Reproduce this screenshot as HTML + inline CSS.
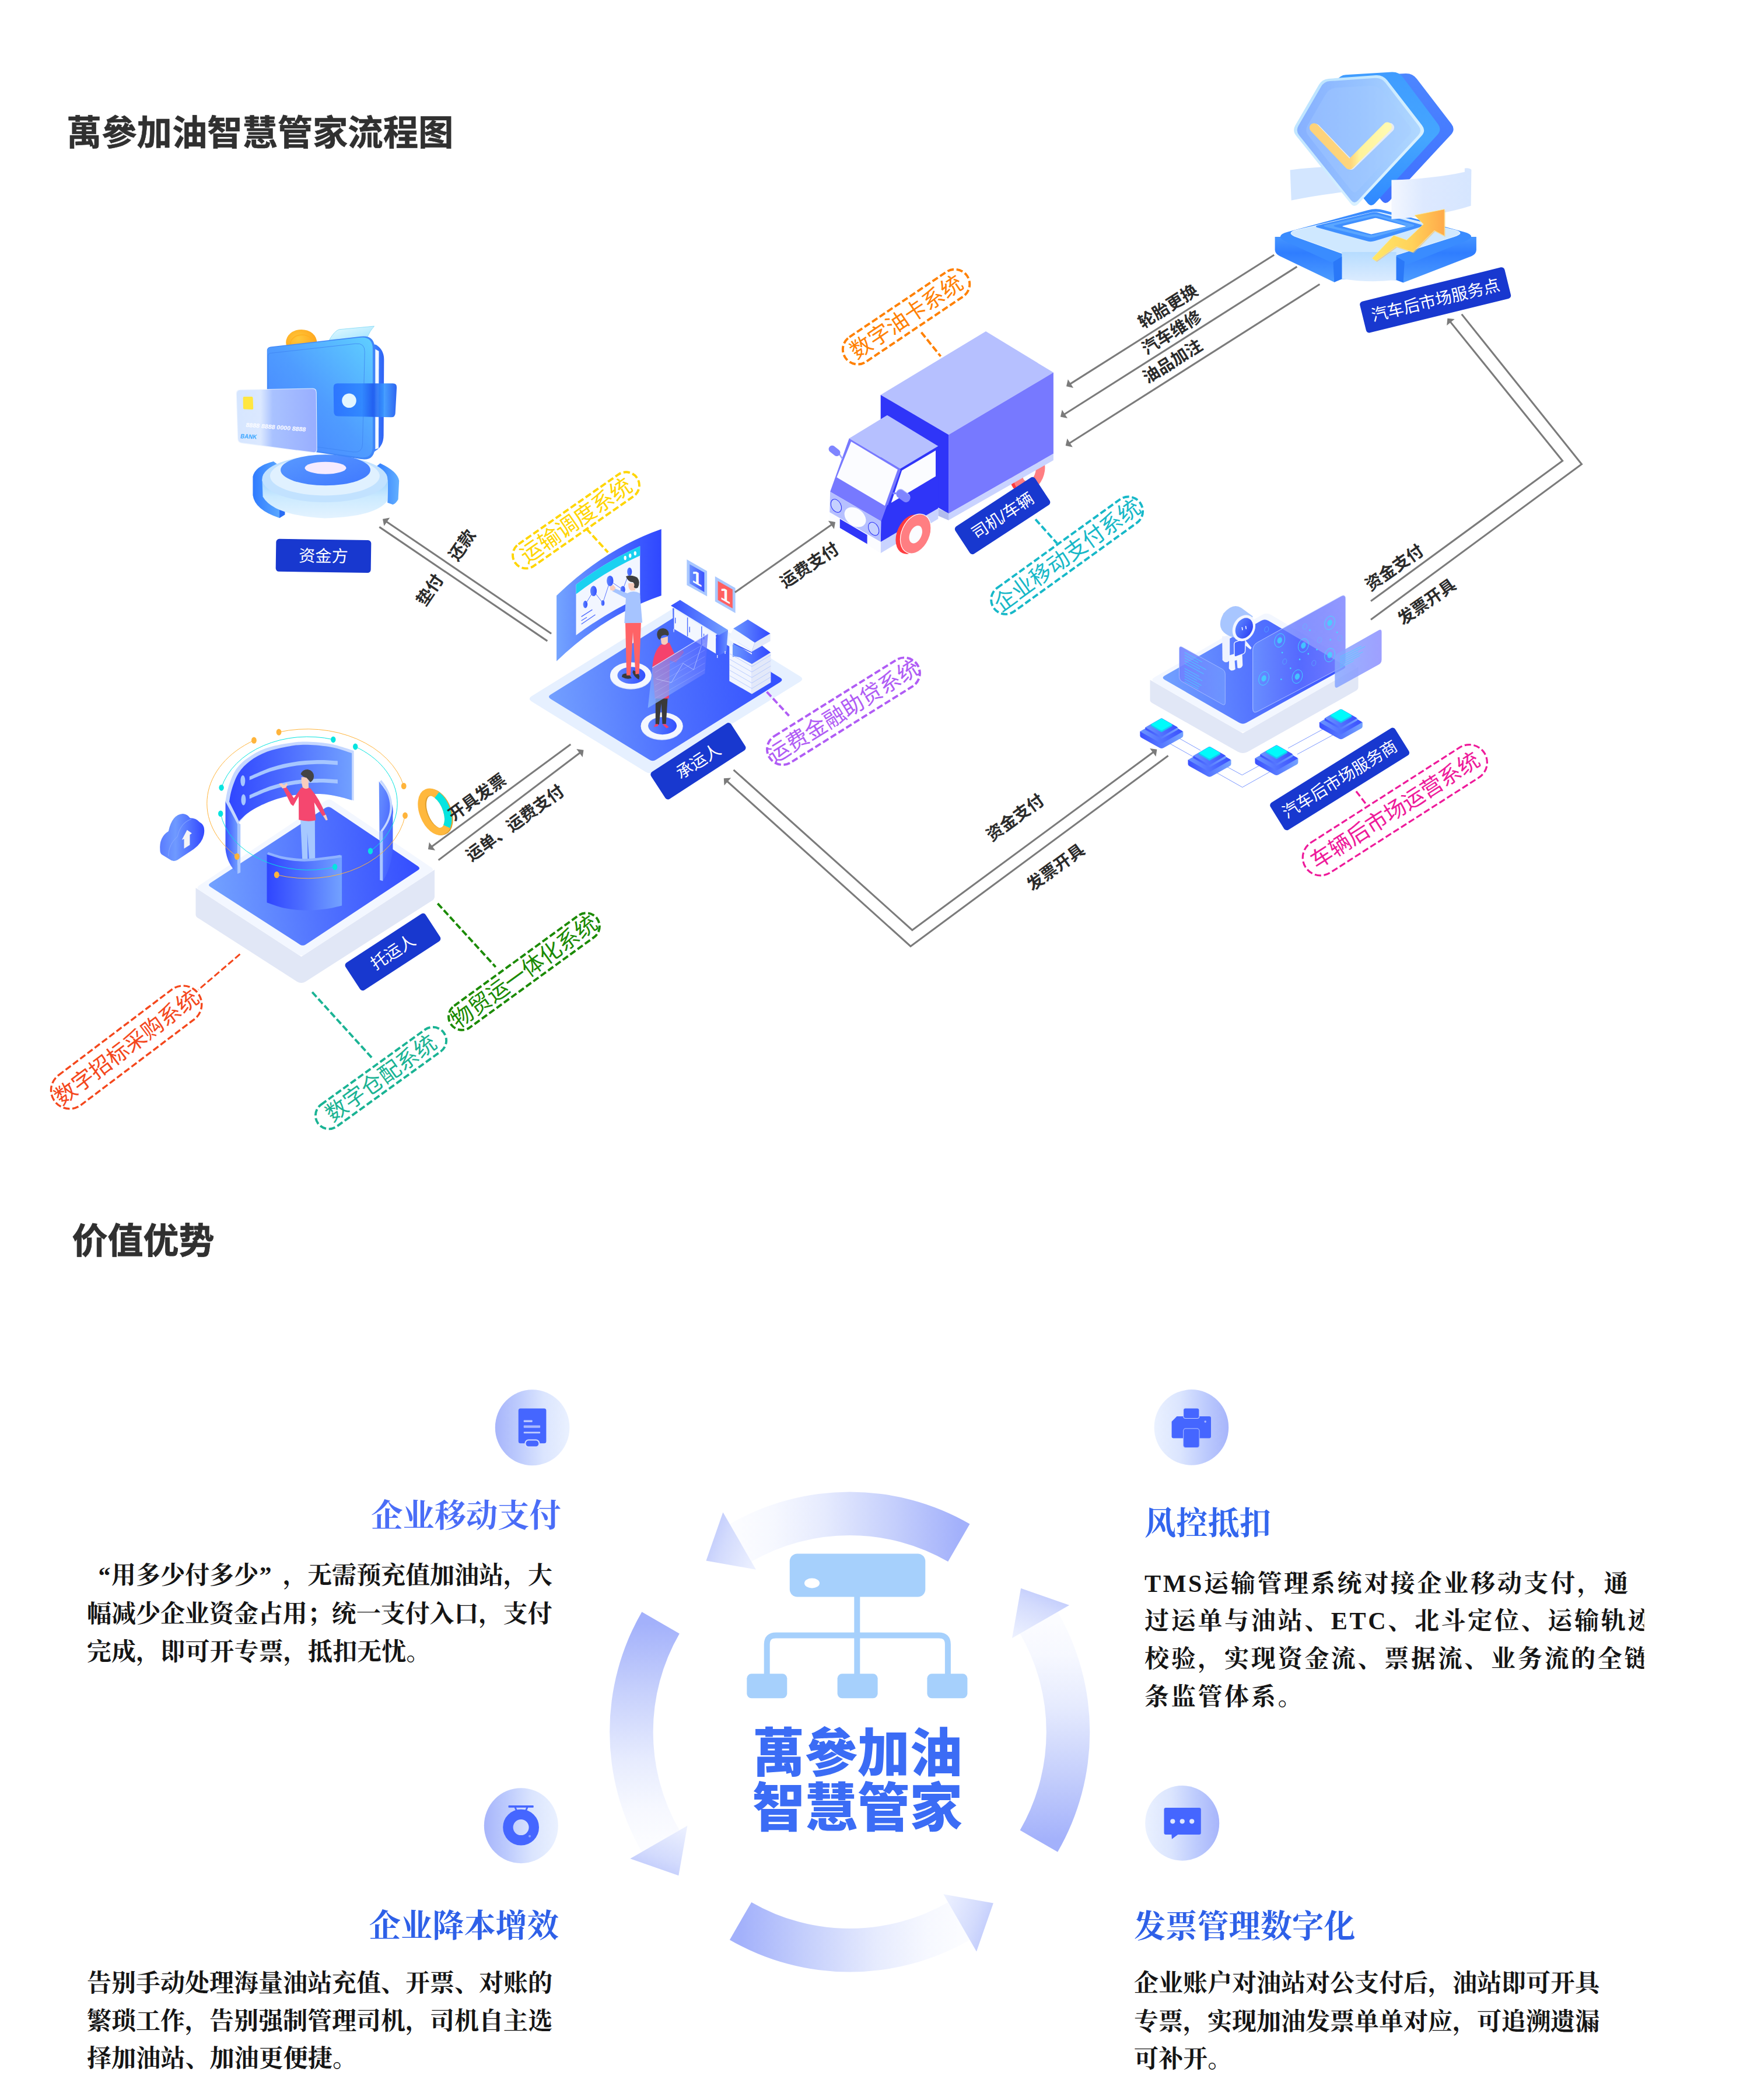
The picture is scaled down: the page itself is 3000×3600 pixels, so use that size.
<!DOCTYPE html>
<html lang="zh-CN"><head><meta charset="utf-8"><title>萬參加油智慧管家流程图</title>
<style>
html,body{margin:0;padding:0;background:#fff;}
body{width:3000px;height:3600px;overflow:hidden;position:relative;font-family:"Liberation Sans","Noto Sans CJK SC",sans-serif;}
svg{display:block;position:absolute;left:0;top:0;}
svg text{font-family:"Liberation Sans","Noto Sans CJK SC",sans-serif;}
svg text.sf{font-family:"Liberation Serif","Noto Serif CJK SC",serif;}
</style></head><body>
<svg xmlns="http://www.w3.org/2000/svg" width="3000" height="3600" viewBox="0 0 3000 3600">
<defs>
</defs>

<text x="114" y="249.3" font-size="60.3" font-weight="700" fill="#303030" stroke="#303030" stroke-width="0.6">萬參加油智慧管家流程图</text>
<text x="123.6" y="2148.8" font-size="61" font-weight="700" fill="#303030" stroke="#303030" stroke-width="0.8">价值优势</text>
<g id="wallet"><defs>
<linearGradient id="wBody" x1="0" y1="1" x2="1" y2="0"><stop offset="0" stop-color="#4580ff"/><stop offset="0.5" stop-color="#4f9cff"/><stop offset="1" stop-color="#5fcfff"/></linearGradient>
<linearGradient id="wEdge" x1="0" y1="0" x2="1" y2="0"><stop offset="0" stop-color="#3f8bff"/><stop offset="1" stop-color="#2f62f5"/></linearGradient>
<linearGradient id="wStrap" x1="0" y1="0" x2="1" y2="0"><stop offset="0" stop-color="#2a72ff"/><stop offset="0.45" stop-color="#2f86ff"/><stop offset="0.62" stop-color="#1f5cf0"/><stop offset="0.8" stop-color="#3a98ff"/><stop offset="1" stop-color="#1d5af0"/></linearGradient>
<linearGradient id="wCard" x1="0" y1="0" x2="1" y2="0"><stop offset="0" stop-color="#d6e6ff"/><stop offset="0.3" stop-color="#dbe8ff"/><stop offset="0.45" stop-color="#a9c2ff"/><stop offset="1" stop-color="#98aeff"/></linearGradient>
<radialGradient id="wCoin" cx="0.4" cy="0.35" r="0.8"><stop offset="0" stop-color="#ffc83a"/><stop offset="1" stop-color="#ff9a14"/></radialGradient>
<linearGradient id="wGlass" x1="0" y1="0" x2="0" y2="1"><stop offset="0" stop-color="#9ed3ff"/><stop offset="0.45" stop-color="#cbeaff"/><stop offset="1" stop-color="#e4f3ff"/></linearGradient>
<linearGradient id="wRing" x1="0" y1="0" x2="1" y2="0"><stop offset="0" stop-color="#2f7bff"/><stop offset="1" stop-color="#63b0ff"/></linearGradient>
<linearGradient id="wTop" x1="0" y1="0" x2="1" y2="1"><stop offset="0" stop-color="#5a9aff"/><stop offset="1" stop-color="#3f78ff"/></linearGradient>
<linearGradient id="wBill" x1="0" y1="0" x2="1" y2="1"><stop offset="0" stop-color="#e8fbff"/><stop offset="1" stop-color="#9fe3ff"/></linearGradient>
</defs>
<path d="M433.4 817.1 Q436.9 798.9 468.9 790.9 L478.0 797.7 Q450.6 808.0 449.4 824.0 Q459.7 840.0 488.3 848.0 L488.3 882.3 L479.1 888.0 Q436.9 874.3 433.4 849.1 Z" fill="url(#wRing)"/>
<path d="M479.1 888.0 L479.1 853.7 L488.3 848.0 L488.3 882.3 Z" fill="#2a6df5"/>
<path d="M651.7 794.3 Q681.4 808.0 684.2 824.0 L682.6 856.0 Q679.1 862.9 673.4 865.1 L664.3 861.7 L665.0 828.6 Q665.4 812.6 644.9 800.0 Z" fill="url(#wRing)"/>
<path d="M449.4 821.7 L450.6 851.4 Q468.9 883.4 556.9 888.5 Q644.9 885.7 664.3 858.3 L665.0 824.0 Z" fill="url(#wGlass)"/>
<ellipse cx="556.9" cy="821.0" rx="107.5" ry="40" fill="#c2e2ff"/>
<ellipse cx="556.9" cy="816.0" rx="94" ry="33.5" fill="#e0f1ff"/>
<ellipse cx="558.0" cy="805.7" rx="77" ry="26.5" fill="url(#wTop)"/>
<ellipse cx="558.0" cy="802.2" rx="35.5" ry="10.5" fill="#f6ebff"/>
<path d="M638.9 595.8 Q638.9 587.8 645.9 591.7 L642.6 589.8 Q658.4 598.5 658.3 616.5 L657.6 746.5 Q657.5 768.5 636.9 776.3 L644.5 773.5 Q638.9 775.6 638.9 769.6 Z" fill="url(#wEdge)"/>
<path d="M643.3 598.5 L649.5 602.0 L649.0 768.5 L643.3 770.3 Z" fill="#f2f8ff"/>
<ellipse cx="516.7" cy="586.9" rx="26.5" ry="22" fill="url(#wCoin)"/>
<ellipse cx="517.7" cy="589.9" rx="20" ry="16" fill="none" stroke="#ffb020" stroke-width="1.5"/>
<path d="M564.5 582.5 Q574.2 566.6 581.3 564.8 L641.5 559.1 Q634.5 566.6 629.1 579.0 Z" fill="url(#wBill)" stroke="#7fd8f5" stroke-width="0.8"/>
<path d="M457.8 601.3 Q457.8 595.3 463.8 594.6 L618.6 576.8 Q642.4 574.0 642.4 598.0 L642.4 766.7 Q642.4 790.7 618.7 787.0 L465.8 763.5 Q457.8 762.3 457.8 754.3 Z" fill="#3f86f8"/>
<path d="M458.4 601.3 Q458.4 596.3 463.3 595.8 L617.0 578.7 Q638.9 576.3 638.9 598.3 L638.9 765.1 Q638.9 787.1 617.1 784.0 L466.3 762.6 Q458.4 761.4 458.4 753.4 Z" fill="url(#wBody)"/>
<path d="M459.4 609.9 Q459.4 605.9 463.4 605.5 L609.7 589.2 Q625.6 587.5 625.2 603.5 L621.5 761.0 Q621.2 777.0 605.3 774.8 L465.4 755.2 Q459.4 754.3 459.4 748.3 Z" fill="none" stroke="#3f85f2" stroke-width="1" opacity="0.8"/>
<path d="M571.7 664.3 Q571.6 657.3 578.6 657.3 L673.5 657.3 Q680.5 657.3 680.1 664.3 L677.7 708.4 Q677.3 715.4 670.3 715.2 L579.5 713.4 Q572.5 713.2 572.3 706.2 Z" fill="url(#wStrap)" opacity="0.93"/>
<circle cx="598.5" cy="686.7" r="12.3" fill="#e3f6ff"/>
<path d="M404.7 674.9 Q404.5 667.9 411.5 667.8 L535.7 665.5 Q542.7 665.4 542.8 672.4 L543.7 770.4 Q543.8 777.4 536.8 776.5 L414.3 760.2 Q407.4 759.3 407.1 752.3 Z" fill="#eef5ff" opacity="0.9"/>
<path d="M405.8 675.5 Q405.6 669.0 412.1 668.8 L535.1 666.6 Q541.6 666.5 541.7 673.0 L542.6 769.5 Q542.7 776.0 536.3 775.1 L414.9 759.1 Q408.4 758.2 408.2 751.7 Z" fill="url(#wCard)"/>
<path d="M416.6 681.9 Q416.6 679.9 418.6 679.9 L431.4 679.9 Q433.4 679.9 433.5 681.9 L434.2 700.1 Q434.3 702.1 432.3 702.0 L418.9 701.6 Q416.9 701.6 416.9 699.6 Z" fill="#ffe640"/>
<text transform="translate(421.0 731.7) rotate(4.5) skewX(-6)" font-family="&quot;Liberation Sans&quot;,sans-serif" font-size="10.2" font-weight="700" fill="#fdfdff" textLength="103" lengthAdjust="spacingAndGlyphs">8888 8888 0000 8888</text>
<text transform="translate(411.6 751.2) rotate(3) skewX(-8)" font-family="&quot;Liberation Sans&quot;,sans-serif" font-size="10.8" font-weight="700" fill="#3fa9ff" textLength="28" lengthAdjust="spacingAndGlyphs">BANK</text></g>
<g id="shield"><defs>
<linearGradient id="zFace" x1="0" y1="0" x2="1" y2="0"><stop offset="0" stop-color="#86b0ff"/><stop offset="0.5" stop-color="#96c2ff"/><stop offset="1" stop-color="#b0d8ff"/></linearGradient>
<linearGradient id="zRim" x1="0" y1="0" x2="1" y2="1"><stop offset="0" stop-color="#b8e2ff"/><stop offset="1" stop-color="#e4f6ff"/></linearGradient>
<linearGradient id="zMid" x1="0" y1="0" x2="0" y2="1"><stop offset="0" stop-color="#3f9cff"/><stop offset="0.5" stop-color="#45a6ff"/><stop offset="1" stop-color="#2f88ff"/></linearGradient>
<linearGradient id="zBack" x1="0" y1="0" x2="0" y2="1"><stop offset="0" stop-color="#4d86ff"/><stop offset="1" stop-color="#3f70ff"/></linearGradient>
<linearGradient id="zChk" x1="0" y1="0" x2="1" y2="0"><stop offset="0" stop-color="#fdd27a"/><stop offset="0.5" stop-color="#fed57c"/><stop offset="0.62" stop-color="#fff39a"/><stop offset="1" stop-color="#fffab0"/></linearGradient>
<linearGradient id="zRib" x1="0" y1="0" x2="1" y2="0"><stop offset="0" stop-color="#f3f7ff"/><stop offset="0.4" stop-color="#dde9ff"/><stop offset="1" stop-color="#d6e6ff"/></linearGradient>
<linearGradient id="zRing" x1="0" y1="0" x2="0" y2="1"><stop offset="0" stop-color="#4595ff"/><stop offset="0.35" stop-color="#2f7dff"/><stop offset="1" stop-color="#4d9dff"/></linearGradient>
<linearGradient id="zGl" x1="0" y1="0" x2="0" y2="1"><stop offset="0" stop-color="#b6dcff"/><stop offset="1" stop-color="#dcecff"/></linearGradient>
<linearGradient id="zArr" x1="0" y1="0" x2="1" y2="0"><stop offset="0" stop-color="#ffe768"/><stop offset="0.55" stop-color="#ffd25a"/><stop offset="1" stop-color="#ffa94a"/></linearGradient>
</defs>
<path d="M2185.6 406.0 L2185.6 428.8 Q2186.3 435.3 2193.9 439.0 L2287.3 483.7 L2300.3 478.5 L2393.7 480.3 L2405.6 484.6 L2522.9 439.0 Q2530.5 435.3 2530.9 428.8 L2530.9 406.0 Z" fill="url(#zRing)"/>
<path d="M2206.2 415.1 Q2182.6 404.3 2207.7 397.4 L2345.0 360.2 Q2358.5 356.5 2372.0 360.2 L2509.3 397.4 Q2534.4 404.3 2510.3 414.0 L2361.0 474.6 Q2348.1 479.8 2335.3 474.0 Z" fill="#3a8cff"/>
<path d="M2223.3 406.5 Q2202.6 399.1 2224.0 394.1 L2347.2 365.3 Q2358.9 362.6 2370.6 365.3 L2492.1 394.0 Q2513.5 399.1 2492.5 405.7 L2359.5 448.0 Q2348.1 451.6 2336.8 447.5 Z" fill="#cfe8ff" stroke="#e6f4ff" stroke-width="1.2"/>
<path d="M2300.3 432.1 L2393.7 432.1 L2393.7 479.8 Q2348.1 485.5 2300.3 478.1 Z" fill="url(#zGl)"/>
<path d="M2285.5 449.0 L2300.3 439.9 L2300.3 478.1 L2287.3 483.7 Z" fill="#2a78f8"/>
<path d="M2393.7 439.9 L2407.8 448.3 L2405.6 484.6 L2393.7 479.8 Z" fill="#2a78f8"/>
<path d="M2260.1 390.6 Q2251.4 388.2 2260.2 386.1 L2350.4 364.6 Q2357.2 363.0 2363.9 364.9 L2433.8 384.5 Q2442.5 386.9 2433.9 389.5 L2356.9 413.1 Q2350.2 415.1 2343.5 413.3 Z" fill="#3f8fff"/>
<path d="M2273.3 389.2 Q2265.5 387.3 2273.3 385.6 L2351.3 367.8 Q2357.2 366.5 2363.0 368.1 L2420.7 384.3 Q2428.4 386.5 2420.7 388.6 L2356.0 406.6 Q2350.2 408.2 2344.4 406.7 Z" fill="#5aa6ff"/>
<path d="M2289.7 389.0 Q2282.9 387.3 2289.7 385.8 L2352.7 371.3 Q2357.6 370.2 2362.4 371.6 L2406.5 384.9 Q2413.2 386.9 2406.4 388.7 L2355.1 402.5 Q2350.2 403.8 2345.4 402.6 Z" fill="#3f8fff"/>
<path d="M2302.7 388.6 Q2299.9 387.8 2302.8 387.0 L2356.1 373.9 Q2358.0 373.4 2360.0 373.9 L2408.6 387.0 Q2411.5 387.8 2408.5 388.4 L2352.2 401.2 Q2350.2 401.7 2348.3 401.1 Z" fill="#ffffff"/>
<path d="M2211.6 291.4 Q2247.6 286.5 2297.0 284.9 L2313.4 328.1 Q2257.9 334.2 2213.7 343.5 Z" fill="#d3e6ff"/>
<path d="M2314.8 139.3 Q2319.6 130.6 2329.6 130.1 L2409.4 126.0 Q2421.4 125.4 2428.7 135.0 L2488.2 212.6 Q2495.5 222.1 2487.3 230.9 L2381.9 344.4 Q2375.1 351.7 2368.7 344.1 L2274.6 231.8 Q2268.2 224.2 2273.0 215.4 Z" fill="url(#zBack)"/>
<path d="M2292.1 137.7 Q2297.0 128.9 2307.0 128.3 L2385.8 123.5 Q2397.8 122.8 2405.0 132.4 L2465.0 212.5 Q2472.2 222.1 2464.2 231.0 L2357.2 348.4 Q2350.5 355.8 2344.2 348.0 L2250.8 232.0 Q2244.5 224.2 2249.3 215.4 Z" fill="url(#zMid)"/>
<path d="M2261.0 145.2 Q2266.5 135.7 2277.5 134.9 L2358.6 129.0 Q2370.6 128.1 2378.0 137.6 L2437.7 214.7 Q2445.1 224.2 2436.9 233.0 L2328.5 349.5 Q2321.7 356.9 2315.4 349.1 L2222.0 232.7 Q2215.1 224.2 2220.6 214.7 Z" fill="url(#zRim)"/>
<path d="M2264.8 148.5 Q2269.8 139.8 2279.8 139.1 L2357.2 133.8 Q2368.1 133.0 2374.9 141.7 L2431.8 215.5 Q2438.5 224.2 2431.0 232.2 L2327.8 343.7 Q2321.7 350.3 2316.0 343.2 L2227.1 232.0 Q2220.9 224.2 2225.9 215.5 Z" fill="url(#zFace)"/>
<path d="M2272.0 162.4 Q2278.5 151.1 2291.4 150.3 L2347.8 146.9 Q2361.8 146.0 2370.4 157.1 L2415.7 215.5 Q2422.5 224.2 2415.0 232.2 L2327.8 326.6 Q2321.7 333.2 2316.1 326.1 L2243.1 232.8 Q2236.3 224.2 2241.8 214.6 Z" fill="#a6ccff" opacity="0.35"/>
<path d="M2255.4 220.1 L2315.9 283.2 L2382.3 218.6" fill="none" stroke="#e8ecf2" stroke-width="15.6" stroke-linecap="round" stroke-linejoin="round"/>
<path d="M2252.7 219.0 L2313.4 282.8 L2378.2 217.4" fill="none" stroke="url(#zChk)" stroke-width="15.6" stroke-linecap="round" stroke-linejoin="round"/>
<path d="M2385.4 308.5 Q2457.4 306.5 2510.9 294.7 L2510.9 288.6 Q2519.1 287.3 2522.4 291.0 L2521.6 352.7 Q2467.7 370.2 2385.4 375.8 Z" fill="url(#zRib)"/>
<polygon points="2354.1,444.7 2391.0,406.0 2412.8,413.4 2441.9,386.0 2426.7,371.3 2477.5,360.8 2477.5,406.0 2460.1,396.9 2423.6,433.8 2395.0,424.2 2360.6,449.0" fill="#f0c070" opacity="0.6"/>
<polygon points="2352.4,442.9 2389.3,403.8 2411.5,411.6 2440.3,384.3 2425.1,369.1 2476.2,358.7 2476.2,404.3 2458.8,395.1 2421.9,432.1 2393.7,422.3 2358.9,447.3" fill="url(#zArr)" stroke="#ffe98a" stroke-width="0.8" stroke-linejoin="round"/></g>
<g id="truck"><g transform="translate(1764.5 810) rotate(24)"><ellipse cx="-5" cy="3" rx="25" ry="35" fill="#ff3d40"/><ellipse rx="25" ry="35" fill="#ff7e82"/><ellipse cx="0" cy="0" rx="10" ry="16" fill="#fbfcff"/></g>
<polygon points="1509.7,676.9 1690,568.1 1805.9,638.6 1626.2,745.2" fill="#b6c0ff"/>
<polygon points="1626.2,745.2 1805.9,638.6 1805.9,778 1626.2,880.6" fill="#7779ff"/>
<polygon points="1626.2,880.3 1805.9,777.6 1805.9,789 1626.2,891.8" fill="#c9d3ff"/>
<polygon points="1509.7,676.9 1626.2,745.2 1626.2,880.6 1509.7,813" fill="#2f35f8"/>
<polygon points="1608.3,871.4 1626.3,880.0 1626.3,892.0 1608.3,884.3" fill="#b2bcee"/>
<polygon points="1509.7,928.9 1608.3,871.4 1608.3,889.4 1509.7,948.2" fill="#c9d3ff"/>
<polygon points="1543.1,803.7 1608.3,764.8 1608.3,871.4 1509.7,928.9 1509.7,893.7" fill="#2f35f8"/>
<g transform="translate(1569.7 915.1) rotate(24)"><ellipse cx="-7" cy="4" rx="24" ry="35.5" fill="#ff3d40"/><ellipse cx="0" cy="0" rx="24" ry="35.5" fill="#ff7e82" stroke="#fff" stroke-width="1.2"/><ellipse cx="0.5" cy="1" rx="10" ry="16" fill="#fbfcff"/></g>
<polygon points="1455.7,751.4 1520.9,711.7 1608.3,764.8 1543.1,803.7" fill="#b6c0ff"/>
<polygon points="1455.7,751.4 1543.1,803.7 1510.6,893.7 1423.1,843.1" fill="#7779ff"/>
<polygon points="1459.1,756.9 1538.9,804.9 1516.9,867.1 1434.3,818.3" fill="#fbfcff"/>
<polygon points="1546.1,806.6 1604.0,772.3 1604.0,816.6 1527.7,862.0" fill="#fbfcff"/>
<polygon points="1540.9,804.9 1544.0,805.6 1522.1,865.9 1519.0,865.3" fill="#7779ff"/>
<polygon points="1423.1,843.1 1510.6,893.7 1509.7,928.9 1422.3,878.3" fill="#b6c0ff"/>
<polygon points="1422.3,878.3 1509.7,928.9 1509.7,948.2 1422.3,892.9" fill="#fbfcff"/>
<polygon points="1439.8,889.4 1486.6,916.9 1486.6,932.6 1439.8,904.9" fill="#2f35f8"/>
<ellipse cx="1466.0" cy="886.5" rx="20.5" ry="14.5" transform="rotate(38 1466.0 886.5)" fill="#fbfcff"/>
<ellipse cx="1433.4" cy="867.1" rx="8.2" ry="12" transform="rotate(-28 1433.4 867.1)" fill="#c5d0ff" stroke="#2f35f8" stroke-width="1.1"/>
<ellipse cx="1497.7" cy="906.6" rx="8.2" ry="12" transform="rotate(-28 1497.7 906.6)" fill="#c5d0ff" stroke="#2f35f8" stroke-width="1.1"/>
<path d="M1438.6 778.0 L1444.2 786.6" stroke="#9aa3ff" stroke-width="2.4" fill="none"/>
<rect x="1419.5" y="766.9" width="22" height="12" rx="6" transform="rotate(38 1430.5 772.9)" fill="#7f85ff"/>
<path d="M1530.3 845.7 L1538.9 845.7" stroke="#7f85ff" stroke-width="3" fill="none"/>
<rect x="1535.3" y="841.6" width="26" height="15" rx="7" transform="rotate(36 1548.3 849.1)" fill="#a9b2ff"/>
<rect x="1535.3" y="843.1" width="26" height="14.5" rx="7" transform="rotate(36 1548.3 850.6)" fill="#7f85ff"/></g>
<g id="carrier"><defs>
<linearGradient id="cPlat" gradientUnits="userSpaceOnUse" x1="940" y1="1200" x2="1341" y2="1160"><stop offset="0" stop-color="#73a0ff"/><stop offset="0.5" stop-color="#4e71ff"/><stop offset="1" stop-color="#3350ff"/></linearGradient>
<linearGradient id="cScr" gradientUnits="userSpaceOnUse" x1="954" y1="0" x2="1134" y2="0"><stop offset="0" stop-color="#74a4ff"/><stop offset="0.55" stop-color="#4a6cff"/><stop offset="1" stop-color="#2f47ff"/></linearGradient>
<linearGradient id="cDot" x1="0" y1="0" x2="1" y2="0"><stop offset="0" stop-color="#5f85ff"/><stop offset="1" stop-color="#3350ff"/></linearGradient>
<linearGradient id="cDesk" x1="0" y1="0" x2="1" y2="0"><stop offset="0" stop-color="#3450ff"/><stop offset="1" stop-color="#76a2ff"/></linearGradient>
<linearGradient id="cDeskS" x1="0" y1="0" x2="1" y2="0"><stop offset="0" stop-color="#3a58ff"/><stop offset="1" stop-color="#6890ff"/></linearGradient>
<linearGradient id="cLid" x1="0" y1="0" x2="1" y2="0"><stop offset="0" stop-color="#6c98ff"/><stop offset="1" stop-color="#3248ff"/></linearGradient>
<linearGradient id="cFr" x1="0" y1="0" x2="1" y2="0"><stop offset="0" stop-color="#6a90ff"/><stop offset="1" stop-color="#3a52ff"/></linearGradient>
<linearGradient id="cGlass" x1="0" y1="1" x2="1" y2="0"><stop offset="0" stop-color="#86b4ff" stop-opacity="0.85"/><stop offset="0.55" stop-color="#7186ff" stop-opacity="0.72"/><stop offset="1" stop-color="#4d60ff" stop-opacity="0.7"/></linearGradient>
</defs>
<path d="M911.7 1202.7 Q904.0 1198.0 911.6 1193.3 L1160.9 1038.7 Q1168.5 1034.0 1176.2 1038.7 L1371.3 1159.3 Q1379.0 1164.0 1371.4 1168.7 L1122.1 1323.3 Q1114.5 1328.0 1106.8 1323.3 Z" fill="#e6f0ff"/>
<path d="M944.0 1198.2 Q938.0 1194.5 943.9 1190.8 L1156.6 1057.7 Q1162.5 1054.0 1168.5 1057.7 L1337.5 1161.8 Q1343.5 1165.5 1337.6 1169.2 L1124.9 1302.3 Q1119.0 1306.0 1113.0 1302.3 Z" fill="url(#cPlat)"/>
<path d="M954.1 1021.1 Q1036.0 941.4 1133.7 907.1 L1133.7 1021.1 Q1036.0 1054.6 954.1 1133.4 Z" fill="url(#cScr)"/>
<path d="M987.5 1002.3 Q1039.4 962.0 1097.2 936.3 L1097.2 1023.7 Q1039.4 1050.3 987.5 1088.9 Z" fill="#f2f6ff"/>
<path d="M987.5 1002.3 Q1039.4 962.0 1097.2 936.3 L1097.2 952.6 Q1039.4 978.3 987.5 1018.6 Z" fill="#1ad1f0"/>
<ellipse cx="1071.7" cy="956.5" rx="2.2" ry="3.7" fill="#fff"/>
<ellipse cx="1080.2" cy="952.6" rx="2.2" ry="3.7" fill="#fff"/>
<ellipse cx="1088.8" cy="948.6" rx="2.2" ry="3.7" fill="#fff"/>
<path d="M1003.4 1036.1 L1017.5 1013.1 L1033.4 1033.7 L1045.8 995.8 L1067.7 1010.9 L1079.2 980.0" fill="none" stroke="#4a68ff" stroke-width="0.9"/>
<ellipse cx="1003.4" cy="1036.1" rx="3.8" ry="6.3" fill="url(#cDot)"/>
<ellipse cx="1017.5" cy="1013.1" rx="5.5" ry="8.9" fill="url(#cDot)"/>
<ellipse cx="1033.4" cy="1033.7" rx="2.9" ry="4.8" fill="url(#cDot)"/>
<ellipse cx="1045.8" cy="995.8" rx="5.7" ry="9.1" fill="url(#cDot)"/>
<ellipse cx="1067.7" cy="1010.9" rx="4.1" ry="6.5" fill="url(#cDot)"/>
<ellipse cx="1079.2" cy="980.0" rx="4.1" ry="6.9" fill="url(#cDot)"/>
<path d="M996.6 1057.1 L1015.4 1045.1" stroke="#4a68ff" stroke-width="1.3" fill="none"/>
<path d="M996.6 1064.0 L1006.0 1058.3" stroke="#4a68ff" stroke-width="1.3" fill="none"/>
<path d="M996.6 1070.0 L1020.6 1053.7" stroke="#4a68ff" stroke-width="1.3" fill="none"/>
<polygon points="1177.4,959.1 1212.1,978.9 1212.1,1022.2 1177.4,1002.9" fill="#a9c8ff"/>
<polygon points="1182.2,967.2 1207.4,981.4 1207.4,1014.9 1182.2,1000.3" fill="url(#cFr)"/>
<polygon points="1225.8,987.9 1260.6,1008.0 1260.6,1050.9 1225.8,1031.1" fill="#a9c8ff"/>
<polygon points="1230.6,996.0 1255.9,1010.6 1255.9,1043.1 1230.6,1028.6" fill="#ff6060"/>
<text transform="matrix(1 0.57 0 1 1194.7 1002.0)" x="0" y="0" text-anchor="middle" font-family="&quot;Liberation Mono&quot;,monospace" font-size="31" font-weight="700" fill="#fbfcff">1</text>
<text transform="matrix(1 0.57 0 1 1243.3 1031.1)" x="0" y="0" text-anchor="middle" font-family="&quot;Liberation Mono&quot;,monospace" font-size="31" font-weight="700" fill="#fbfcff">1</text>
<polygon points="1154.8,1044.0 1227.1,1088.6 1227.1,1120.6 1154.8,1077.8" fill="#f3f7ff"/>
<polygon points="1153.1,1042.3 1155.5,1043.1 1155.5,1079.1 1153.8,1079.1" fill="#4a6cff"/>
<path d="M1178.6 1058.6 L1178.6 1091.1" stroke="#4a6cff" stroke-width="1.4"/>
<path d="M1202.8 1073.7 L1202.8 1106.2" stroke="#4a6cff" stroke-width="1.4"/>
<path d="M1157.7 1059.4 L1157.7 1068.0" stroke="#4a6cff" stroke-width="1.4" stroke-linecap="round"/>
<path d="M1182.2 1074.9 L1182.2 1083.4" stroke="#4a6cff" stroke-width="1.4" stroke-linecap="round"/>
<path d="M1206.6 1086.9 L1206.6 1095.4" stroke="#4a6cff" stroke-width="1.4" stroke-linecap="round"/>
<polygon points="1227.1,1088.6 1248.1,1080.0 1245.1,1117.2 1230.2,1124.6" fill="url(#cDeskS)"/>
<polygon points="1150.0,1038.3 1165.8,1028.6 1248.1,1080.0 1232.3,1089.1" fill="url(#cDesk)"/>
<path d="M1155.1 1078.3 L1155.1 1083.4" stroke="#dfe8ff" stroke-width="1.4"/>
<path d="M1229.7 1122.9 L1229.7 1128.0" stroke="#dfe8ff" stroke-width="1.4"/>
<path d="M1243.1 1116.0 L1243.1 1121.1" stroke="#dfe8ff" stroke-width="1.4"/>
<polygon points="1250.3,1106.6 1288.9,1123.7 1288.9,1189.7 1250.3,1167.4" fill="#f1f5ff"/>
<polygon points="1288.9,1123.7 1321.4,1118.6 1321.4,1170.0 1288.9,1189.7" fill="#e3e9f9"/>
<polygon points="1255.9,1104.9 1288.9,1092.9 1321.1,1118.6 1288.9,1138.3 1268.3,1127.1 1261.4,1125.4 1255.9,1126.3" fill="url(#cLid)"/>
<path d="M1250.3 1120.3 L1288.9 1142.6 L1321.4 1122.9" fill="none" stroke="#b9ccff" stroke-width="1"/>
<path d="M1250.3 1129.7 L1288.9 1152.0 L1321.4 1132.3" fill="none" stroke="#b9ccff" stroke-width="1"/>
<path d="M1250.3 1139.1 L1288.9 1161.4 L1321.4 1141.7" fill="none" stroke="#b9ccff" stroke-width="1"/>
<path d="M1250.3 1148.6 L1288.9 1170.9 L1321.4 1151.1" fill="none" stroke="#b9ccff" stroke-width="1"/>
<path d="M1250.3 1158.0 L1288.9 1180.3 L1321.4 1160.6" fill="none" stroke="#b9ccff" stroke-width="1"/>
<polygon points="1250.3,1092.0 1257.1,1077.4 1294.0,1101.4 1288.9,1116.0" fill="#f1f6ff"/>
<polygon points="1294.0,1101.4 1320.6,1086.0 1320.6,1098.9 1288.9,1116.9 1288.9,1116.0" fill="#e3e9f9"/>
<polygon points="1250.3,1092.0 1288.9,1116.0 1288.9,1122.0 1250.3,1097.1" fill="#f6f9ff"/>
<path d="M1257.1 1103.1 L1288.9 1118.6" stroke="#3a55f5" stroke-width="1.6"/>
<polygon points="1257.1,1077.4 1282.0,1062.0 1320.6,1086.0 1294.0,1101.4" fill="url(#cLid)"/>
<ellipse cx="1081.4" cy="1159.3" rx="35.5" ry="22.5" fill="#dfe8fb"/>
<ellipse cx="1081.4" cy="1157.8" rx="35.5" ry="22.5" fill="#f4f7ff"/>
<ellipse cx="1082.4" cy="1157.8" rx="24" ry="14.5" fill="url(#cDot)"/>
<path d="M1066.9 1156.6 q6 -4 12 0 l4 6 q-8 3 -17 -2 Z M1085.4 1148.9 q8 2 11 10 l-1 6 q-8 -4 -11 -12 Z" fill="#3a3a3a"/>
<path d="M1072.0 1067.4 L1098.9 1067.4 L1095.7 1154.9 L1089.5 1156.1 L1085.0 1083.7 L1080.9 1157.8 L1074.1 1157.8 Z" fill="#ff6366"/>
<path d="M1075.4 1016.9 Q1085.7 1010.9 1096.9 1016.9 L1101.1 1067.4 L1070.3 1068.3 L1072.9 1025.4 L1049.7 1013.4 L1052.3 1008.3 Z" fill="#a6c4ff"/>
<path d="M1045.4 1005.7 l6 -3 l4 5 l-3 5 l-6 -1 Z" fill="#f8cdbd"/>
<path d="M1077.1 999.7 Q1076.3 1010.0 1082.3 1012.6 L1089.1 1012.1 L1088.3 999.7 Z" fill="#f8cdbd"/>
<path d="M1072.9 988.1 Q1084.0 984.3 1092.6 990.3 Q1098.6 998.0 1093.4 1007.4 Q1089.1 1010.0 1086.6 1006.6 Q1089.1 1001.4 1084.9 998.0 Q1077.1 998.9 1072.9 988.1 Z" fill="#3f3f3f"/>
<ellipse cx="1134.6" cy="1245.7" rx="36" ry="23" fill="#dfe8fb"/>
<ellipse cx="1134.6" cy="1244.2" rx="36" ry="23" fill="#f4f7ff"/>
<ellipse cx="1135.6" cy="1244.2" rx="24.5" ry="15" fill="url(#cDot)"/>
<path d="M1123.8 1193.3 L1144.8 1193.3 L1141.7 1241.1 L1135.5 1241.1 L1133.6 1205.6 L1129.9 1242.0 L1123.8 1242.0 Z" fill="#3a3a3a"/>
<path d="M1120.7 1246.3 l3 -5 l4.5 0 l0 3.5 Z M1135.5 1241.4 l6 0 l5 5 l-4 2 Z" fill="#f5426c"/>
<path d="M1118.3 1144.3 Q1120.0 1116.9 1132.9 1104.9 L1147.4 1101.4 L1156.0 1120.3 L1170.6 1114.3 L1172.3 1118.6 L1158.6 1135.7 L1148.3 1132.3 L1146.6 1197.4 L1122.6 1197.4 Z" fill="#f5426c"/>
<path d="M1132.9 1094.6 L1144.9 1091.1 L1144.9 1101.4 Q1138.9 1108.3 1133.7 1103.1 Z" fill="#f8cdbd"/>
<path d="M1126.3 1086.9 Q1126.9 1077.8 1136.6 1077.1 Q1146.2 1078.3 1146.6 1086.9 Q1145.7 1090.3 1144.0 1089.8 Q1138.9 1086.9 1134.2 1090.3 Q1132.9 1094.6 1130.5 1097.1 Q1126.3 1092.9 1126.3 1086.9 Z" fill="#3f3f3f"/>
<polygon points="1118.3,1144.3 1213.8,1086.3 1208.3,1154.6 1110.6,1213.7" fill="url(#cGlass)"/>
<path d="M1118.3 1144.3 L1213.8 1086.3" stroke="#dfe8ff" stroke-width="1.3" opacity="0.9"/>
<path d="M1125.1 1164.0 L1150.9 1170.0 L1170.9 1137.1 L1189.1 1148.1 L1202.3 1107.4" fill="none" stroke="#cfdcff" stroke-width="0.8" opacity="0.8"/>
<path d="M1122.6 1152.9 L1208.3 1103.1" stroke="#cfdcff" stroke-width="0.6" opacity="0.45"/>
<path d="M1122.6 1164.0 L1208.3 1114.3" stroke="#cfdcff" stroke-width="0.6" opacity="0.45"/>
<path d="M1122.6 1175.1 L1208.3 1125.4" stroke="#cfdcff" stroke-width="0.6" opacity="0.45"/>
<path d="M1122.6 1186.3 L1208.3 1136.6" stroke="#cfdcff" stroke-width="0.6" opacity="0.45"/>
<path d="M1122.6 1197.4 L1208.3 1147.7" stroke="#cfdcff" stroke-width="0.6" opacity="0.45"/></g>
<g id="robot"><defs>
<linearGradient id="rPlat" gradientUnits="userSpaceOnUse" x1="1991" y1="1165" x2="2310" y2="1140"><stop offset="0" stop-color="#73a2ff"/><stop offset="0.45" stop-color="#5677ff"/><stop offset="1" stop-color="#3a52ff"/></linearGradient>
<linearGradient id="rG1" x1="0" y1="0" x2="1" y2="0"><stop offset="0" stop-color="#6f80ff" stop-opacity="0.9"/><stop offset="1" stop-color="#6f98ff" stop-opacity="0.85"/></linearGradient>
<linearGradient id="rG2" x1="0" y1="0" x2="1" y2="0"><stop offset="0" stop-color="#6f95ff" stop-opacity="0.78"/><stop offset="0.5" stop-color="#5a6cff" stop-opacity="0.74"/><stop offset="1" stop-color="#7f86ff" stop-opacity="0.85"/></linearGradient>
<linearGradient id="rG3" x1="0" y1="0" x2="1" y2="0"><stop offset="0" stop-color="#86a6ff" stop-opacity="0.85"/><stop offset="1" stop-color="#8d8fff" stop-opacity="0.85"/></linearGradient>
<linearGradient id="rChip" x1="0" y1="0" x2="1" y2="0"><stop offset="0" stop-color="#3a50ff"/><stop offset="1" stop-color="#74a2ff"/></linearGradient>
<linearGradient id="rChipT" x1="0" y1="0" x2="1" y2="0"><stop offset="0" stop-color="#6a94ff"/><stop offset="1" stop-color="#3a50ff"/></linearGradient>
<linearGradient id="rFace" x1="0" y1="0" x2="1" y2="0"><stop offset="0" stop-color="#5a80ff"/><stop offset="1" stop-color="#3046f5"/></linearGradient>
</defs>
<path d="M2018.9 1264.2 L2058.3 1286.5" stroke="#7b97ff" stroke-width="1" fill="none"/>
<path d="M2003.1 1273.4 L2045.1 1297.0" stroke="#7b97ff" stroke-width="1" fill="none"/>
<path d="M2208.1 1282.6 L2268.6 1249.7" stroke="#7b97ff" stroke-width="1" fill="none"/>
<path d="M2223.9 1293.1 L2287.0 1258.9" stroke="#7b97ff" stroke-width="1" fill="none"/>
<path d="M2100.3 1312.8 L2129.3 1328.6 L2158.2 1312.8 M2083.3 1323.3 L2129.8 1349.6 L2176.6 1323.3" stroke="#7b97ff" stroke-width="1" fill="none"/>
<path d="M1971.5 1165.6 L2130.6 1257.1 L2328.5 1143.3 L2328.5 1178.3 Q2328.5 1182.3 2322.5 1185.3 L2138.6 1289.1 Q2130.6 1293.1 2122.6 1289.1 L1977.5 1206.6 Q1971.5 1203.6 1971.5 1200.6 Z" fill="#e1e7f6"/>
<path d="M1979.3 1170.1 Q1971.5 1165.6 1979.3 1161.1 L2163.5 1053.9 Q2171.3 1049.4 2179.0 1054.0 L2320.8 1138.6 Q2328.5 1143.3 2320.7 1147.7 L2138.4 1252.6 Q2130.6 1257.1 2122.8 1252.6 Z" fill="#f3f7ff"/>
<path d="M1996.5 1165.2 Q1990.5 1161.7 1996.6 1158.2 L2162.1 1063.9 Q2168.2 1060.5 2174.2 1064.0 L2303.3 1139.7 Q2309.3 1143.3 2303.2 1146.7 L2136.7 1239.0 Q2130.6 1242.4 2124.5 1238.9 Z" fill="url(#rPlat)"/>
<path d="M2021.5 1112.5 Q2021.5 1106.5 2026.7 1109.3 L2095.1 1146.9 Q2100.3 1149.8 2100.3 1155.8 L2100.3 1204.3 Q2100.3 1210.3 2095.1 1207.3 L2026.7 1168.6 Q2021.5 1165.6 2021.5 1159.6 Z" fill="url(#rG1)" stroke="#b9ccff" stroke-width="0.7"/>
<path d="M2030.7 1118.3 L2060.9 1134.9" stroke="#3fe0ff" stroke-width="0.8"/>
<path d="M2030.7 1123.0 L2054.3 1136.0" stroke="#3fe0ff" stroke-width="0.8"/>
<path d="M2030.7 1127.8 L2067.5 1148.0" stroke="#3fe0ff" stroke-width="0.8"/>
<path d="M2030.7 1132.5 L2057.0 1146.9" stroke="#3fe0ff" stroke-width="0.8"/>
<path d="M2030.7 1137.2 L2063.5 1155.3" stroke="#3fe0ff" stroke-width="0.8"/>
<path d="M2030.7 1145.9 L2055.7 1159.6" stroke="#3fe0ff" stroke-width="0.8"/>
<path d="M2030.7 1150.4 L2060.9 1167.0" stroke="#3fe0ff" stroke-width="0.8"/>
<path d="M2030.7 1154.8 L2051.7 1166.4" stroke="#3fe0ff" stroke-width="0.8"/>
<path d="M2030.7 1159.3 L2059.6 1175.2" stroke="#3fe0ff" stroke-width="0.8"/>
<path d="M2030.7 1163.8 L2055.7 1177.5" stroke="#3fe0ff" stroke-width="0.8"/>
<path d="M2030.7 1168.2 L2054.3 1181.2" stroke="#3fe0ff" stroke-width="0.8"/>
<path d="M2095.1 1090.7 L2108.2 1090.7 L2108.2 1131.4 Q2101.7 1139.3 2095.6 1131.4 Z" fill="#eef2ff"/>
<path d="M2107.2 1123.5 L2129.3 1117.0 L2130.3 1140.6 Q2127.9 1147.2 2121.4 1145.1 L2120.3 1131.4 L2116.6 1132.7 L2117.7 1147.2 Q2110.9 1152.5 2106.7 1145.9 Z" fill="#f3f6ff"/>
<path d="M2115.7 1104.7 Q2115.6 1101.2 2118.9 1100.1 L2131.7 1095.7 Q2135.0 1094.6 2135.0 1098.1 L2134.6 1116.1 Q2134.5 1119.6 2131.3 1120.9 L2119.4 1125.4 Q2116.1 1126.7 2116.0 1123.2 Z" fill="#4666ff" stroke="#f3f6ff" stroke-width="1.4"/>
<path d="M2135.8 1098.6 L2145.6 1110.4 L2143.7 1113.6 L2135.0 1106.5 Z" fill="#f3f6ff"/>
<path d="M2097.7 1051.3 Q2113.5 1032.9 2127.9 1042.1 L2147.7 1056.5 L2131.9 1097.3 L2108.2 1090.7 Q2081.9 1078.9 2097.7 1051.3 Z" fill="#a8c6ff"/>
<ellipse cx="2132.4" cy="1076.8" rx="18.5" ry="23.5" transform="rotate(28 2132.4 1076.8)" fill="#f3f6ff"/>
<ellipse cx="2132.9" cy="1076.8" rx="14" ry="18.5" transform="rotate(28 2132.4 1076.8)" fill="url(#rFace)"/>
<path d="M2129.3 1075.7 l0.6 4 M2135.6 1073.9 l0.6 4" stroke="#fff" stroke-width="1.6" stroke-linecap="round"/>
<path d="M2147.7 1114.7 Q2147.7 1105.7 2155.5 1101.3 L2298.8 1022.2 Q2306.7 1017.9 2306.7 1026.9 L2306.7 1131.6 Q2306.7 1140.6 2298.7 1144.8 L2155.6 1219.8 Q2147.7 1224.0 2147.7 1215.0 Z" fill="url(#rG2)" stroke="#c3d3ff" stroke-width="0.8"/>
<ellipse cx="2193.7" cy="1097.8" rx="8.5" ry="12.0" transform="rotate(18 2193.7 1097.8)" fill="none" stroke="#3fe0ff" stroke-width="0.8"/>
<ellipse cx="2193.7" cy="1097.8" rx="4.0" ry="5.5" transform="rotate(18 2193.7 1097.8)" fill="#3fd8ff" opacity="0.8"/>
<ellipse cx="2234.4" cy="1106.5" rx="8.5" ry="12.0" transform="rotate(18 2234.4 1106.5)" fill="none" stroke="#3fe0ff" stroke-width="0.8"/>
<ellipse cx="2234.4" cy="1106.5" rx="4.0" ry="5.5" transform="rotate(18 2234.4 1106.5)" fill="#3fd8ff" opacity="0.8"/>
<ellipse cx="2279.6" cy="1067.8" rx="8.5" ry="12.0" transform="rotate(18 2279.6 1067.8)" fill="none" stroke="#3fe0ff" stroke-width="0.8"/>
<ellipse cx="2279.6" cy="1067.8" rx="4.0" ry="5.5" transform="rotate(18 2279.6 1067.8)" fill="#3fd8ff" opacity="0.8"/>
<ellipse cx="2279.6" cy="1123.0" rx="8.5" ry="12.0" transform="rotate(18 2279.6 1123.0)" fill="none" stroke="#3fe0ff" stroke-width="0.8"/>
<ellipse cx="2279.6" cy="1123.0" rx="4.0" ry="5.5" transform="rotate(18 2279.6 1123.0)" fill="#3fd8ff" opacity="0.8"/>
<ellipse cx="2166.6" cy="1163.0" rx="8.5" ry="12.0" transform="rotate(18 2166.6 1163.0)" fill="none" stroke="#3fe0ff" stroke-width="0.8"/>
<ellipse cx="2166.6" cy="1163.0" rx="4.0" ry="5.5" transform="rotate(18 2166.6 1163.0)" fill="#3fd8ff" opacity="0.8"/>
<ellipse cx="2223.9" cy="1159.8" rx="8.5" ry="12.0" transform="rotate(18 2223.9 1159.8)" fill="none" stroke="#3fe0ff" stroke-width="0.8"/>
<ellipse cx="2223.9" cy="1159.8" rx="4.0" ry="5.5" transform="rotate(18 2223.9 1159.8)" fill="#3fd8ff" opacity="0.8"/>
<ellipse cx="2237.0" cy="1074.1" rx="3.4" ry="4.8" transform="rotate(18 2237.0 1074.1)" fill="none" stroke="#55c8ff" stroke-width="0.6" opacity="0.8"/>
<ellipse cx="2262.0" cy="1097.3" rx="3.4" ry="4.8" transform="rotate(18 2262.0 1097.3)" fill="none" stroke="#55c8ff" stroke-width="0.6" opacity="0.8"/>
<ellipse cx="2297.0" cy="1094.1" rx="3.4" ry="4.8" transform="rotate(18 2297.0 1094.1)" fill="none" stroke="#55c8ff" stroke-width="0.6" opacity="0.8"/>
<ellipse cx="2202.3" cy="1134.1" rx="3.4" ry="4.8" transform="rotate(18 2202.3 1134.1)" fill="none" stroke="#55c8ff" stroke-width="0.6" opacity="0.8"/>
<ellipse cx="2252.3" cy="1136.7" rx="3.4" ry="4.8" transform="rotate(18 2252.3 1136.7)" fill="none" stroke="#55c8ff" stroke-width="0.6" opacity="0.8"/>
<ellipse cx="2171.3" cy="1078.9" rx="3.4" ry="4.8" transform="rotate(18 2171.3 1078.9)" fill="none" stroke="#55c8ff" stroke-width="0.6" opacity="0.8"/>
<circle cx="2245.4" cy="1080.2" r="1.3" fill="#3fe0ff"/>
<circle cx="2292.2" cy="1084.1" r="1.3" fill="#3fe0ff"/>
<circle cx="2280.7" cy="1096.7" r="1.3" fill="#3fe0ff"/>
<circle cx="2198.1" cy="1118.8" r="1.3" fill="#3fe0ff"/>
<circle cx="2242.8" cy="1120.9" r="1.3" fill="#3fe0ff"/>
<circle cx="2257.5" cy="1113.6" r="1.3" fill="#3fe0ff"/>
<circle cx="2228.1" cy="1130.4" r="1.3" fill="#3fe0ff"/>
<circle cx="2212.3" cy="1145.6" r="1.3" fill="#3fe0ff"/>
<circle cx="2196.3" cy="1164.6" r="1.3" fill="#3fe0ff"/>
<path d="M2288.3 1129.0 Q2288.3 1123.0 2293.5 1120.1 L2363.2 1080.5 Q2368.5 1077.5 2368.5 1083.5 L2368.5 1130.7 Q2368.5 1136.7 2363.2 1139.6 L2293.5 1178.0 Q2288.3 1180.8 2288.3 1174.8 Z" fill="url(#rG3)"/>
<path d="M2297.0 1126.2 L2333.8 1107.8" stroke="#3fe0ff" stroke-width="0.8" opacity="0.9"/>
<path d="M2297.0 1129.9 L2340.3 1108.2" stroke="#3fe0ff" stroke-width="0.8" opacity="0.9"/>
<path d="M2297.0 1133.5 L2328.5 1117.8" stroke="#3fe0ff" stroke-width="0.8" opacity="0.9"/>
<path d="M2297.0 1137.2 L2336.4 1117.5" stroke="#3fe0ff" stroke-width="0.8" opacity="0.9"/>
<path d="M2297.0 1140.9 L2331.1 1123.8" stroke="#3fe0ff" stroke-width="0.8" opacity="0.9"/>
<path d="M2297.0 1144.6 L2320.6 1132.7" stroke="#3fe0ff" stroke-width="0.8" opacity="0.9"/>
<path d="M1954.3 1253.8 L1954.3 1260.8 Q1954.3 1263.3 1957.8 1265.3 L1988.3 1282.3 Q1991.3 1283.8 1994.3 1282.3 L2024.8 1265.3 Q2028.3 1263.3 2028.3 1260.8 L2028.3 1253.8 Z" fill="url(#rChip)"/><path d="M1956.2 1254.9 Q1954.3 1253.8 1956.2 1252.7 L1989.3 1233.9 Q1991.3 1232.8 1993.2 1233.9 L2026.3 1252.7 Q2028.3 1253.8 2026.3 1254.9 L1993.2 1273.7 Q1991.3 1274.8 1989.3 1273.7 Z" fill="url(#rChipT)"/><path d="M1963.3 1246.8 L1963.3 1250.8 L1991.3 1266.8 L2019.3 1250.8 L2019.3 1246.8 Z" fill="url(#rChip)"/><path d="M1965.2 1247.9 Q1963.3 1246.8 1965.2 1245.7 L1989.3 1231.9 Q1991.3 1230.8 1993.2 1231.9 L2017.3 1245.7 Q2019.3 1246.8 2017.3 1247.9 L1993.2 1261.7 Q1991.3 1262.8 1989.3 1261.7 Z" fill="url(#rChipT)"/><path d="M1972.8 1241.8 L1972.8 1244.8 L1991.3 1255.3 L2009.8 1244.8 L2009.8 1241.8 Z" fill="#16c8f2"/><path d="M1974.7 1242.9 Q1972.8 1241.8 1974.7 1240.7 L1989.3 1232.4 Q1991.3 1231.3 1993.2 1232.4 L2007.8 1240.7 Q2009.8 1241.8 2007.8 1242.9 L1993.2 1251.2 Q1991.3 1252.3 1989.3 1251.2 Z" fill="#00fbfb"/>
<path d="M2036.5 1302.5 L2036.5 1309.5 Q2036.5 1312.0 2040.0 1314.0 L2070.5 1331.0 Q2073.5 1332.5 2076.5 1331.0 L2107.0 1314.0 Q2110.5 1312.0 2110.5 1309.5 L2110.5 1302.5 Z" fill="url(#rChip)"/><path d="M2038.4 1303.5 Q2036.5 1302.5 2038.4 1301.4 L2071.6 1282.5 Q2073.5 1281.5 2075.4 1282.5 L2108.6 1301.4 Q2110.5 1302.5 2108.6 1303.5 L2075.4 1322.4 Q2073.5 1323.5 2071.6 1322.4 Z" fill="url(#rChipT)"/><path d="M2045.5 1295.5 L2045.5 1299.5 L2073.5 1315.5 L2101.5 1299.5 L2101.5 1295.5 Z" fill="url(#rChip)"/><path d="M2047.4 1296.6 Q2045.5 1295.5 2047.4 1294.4 L2071.6 1280.6 Q2073.5 1279.5 2075.4 1280.6 L2099.6 1294.4 Q2101.5 1295.5 2099.6 1296.6 L2075.4 1310.4 Q2073.5 1311.5 2071.6 1310.4 Z" fill="url(#rChipT)"/><path d="M2055.0 1290.5 L2055.0 1293.5 L2073.5 1304.0 L2092.0 1293.5 L2092.0 1290.5 Z" fill="#16c8f2"/><path d="M2056.9 1291.5 Q2055.0 1290.5 2056.9 1289.4 L2071.6 1281.0 Q2073.5 1280.0 2075.4 1281.0 L2090.1 1289.4 Q2092.0 1290.5 2090.1 1291.5 L2075.4 1299.9 Q2073.5 1301.0 2071.6 1299.9 Z" fill="#00fbfb"/>
<path d="M2151.4 1299.8 L2151.4 1306.8 Q2151.4 1309.3 2154.9 1311.3 L2185.4 1328.3 Q2188.4 1329.8 2191.4 1328.3 L2221.9 1311.3 Q2225.4 1309.3 2225.4 1306.8 L2225.4 1299.8 Z" fill="url(#rChip)"/><path d="M2153.3 1300.9 Q2151.4 1299.8 2153.3 1298.7 L2186.5 1279.9 Q2188.4 1278.8 2190.3 1279.9 L2223.5 1298.7 Q2225.4 1299.8 2223.5 1300.9 L2190.3 1319.7 Q2188.4 1320.8 2186.5 1319.7 Z" fill="url(#rChipT)"/><path d="M2160.4 1292.8 L2160.4 1296.8 L2188.4 1312.8 L2216.4 1296.8 L2216.4 1292.8 Z" fill="url(#rChip)"/><path d="M2162.3 1293.9 Q2160.4 1292.8 2162.3 1291.7 L2186.5 1277.9 Q2188.4 1276.8 2190.3 1277.9 L2214.5 1291.7 Q2216.4 1292.8 2214.5 1293.9 L2190.3 1307.7 Q2188.4 1308.8 2186.5 1307.7 Z" fill="url(#rChipT)"/><path d="M2169.9 1287.8 L2169.9 1290.8 L2188.4 1301.3 L2206.9 1290.8 L2206.9 1287.8 Z" fill="#16c8f2"/><path d="M2171.8 1288.9 Q2169.9 1287.8 2171.8 1286.7 L2186.5 1278.4 Q2188.4 1277.3 2190.3 1278.4 L2205.0 1286.7 Q2206.9 1287.8 2205.0 1288.9 L2190.3 1297.2 Q2188.4 1298.3 2186.5 1297.2 Z" fill="#00fbfb"/>
<path d="M2261.8 1238.1 L2261.8 1245.1 Q2261.8 1247.6 2265.3 1249.6 L2295.8 1266.6 Q2298.8 1268.1 2301.8 1266.6 L2332.3 1249.6 Q2335.8 1247.6 2335.8 1245.1 L2335.8 1238.1 Z" fill="url(#rChip)"/><path d="M2263.7 1239.1 Q2261.8 1238.1 2263.7 1237.0 L2296.9 1218.1 Q2298.8 1217.1 2300.7 1218.1 L2333.9 1237.0 Q2335.8 1238.1 2333.9 1239.1 L2300.7 1258.0 Q2298.8 1259.1 2296.9 1258.0 Z" fill="url(#rChipT)"/><path d="M2270.8 1231.1 L2270.8 1235.1 L2298.8 1251.1 L2326.8 1235.1 L2326.8 1231.1 Z" fill="url(#rChip)"/><path d="M2272.7 1232.2 Q2270.8 1231.1 2272.7 1230.0 L2296.9 1216.2 Q2298.8 1215.1 2300.7 1216.2 L2324.9 1230.0 Q2326.8 1231.1 2324.9 1232.2 L2300.7 1246.0 Q2298.8 1247.1 2296.9 1246.0 Z" fill="url(#rChipT)"/><path d="M2280.3 1226.1 L2280.3 1229.1 L2298.8 1239.6 L2317.3 1229.1 L2317.3 1226.1 Z" fill="#16c8f2"/><path d="M2282.2 1227.1 Q2280.3 1226.1 2282.2 1225.0 L2296.9 1216.6 Q2298.8 1215.6 2300.7 1216.6 L2315.4 1225.0 Q2317.3 1226.1 2315.4 1227.1 L2300.7 1235.5 Q2298.8 1236.6 2296.9 1235.5 Z" fill="#00fbfb"/></g>
<g id="shipper"><defs>
<linearGradient id="sPlat" gradientUnits="userSpaceOnUse" x1="357" y1="1520" x2="722" y2="1490"><stop offset="0" stop-color="#73a2ff"/><stop offset="0.5" stop-color="#5274ff"/><stop offset="1" stop-color="#344dff"/></linearGradient>
<linearGradient id="sWall" gradientUnits="userSpaceOnUse" x1="390" y1="0" x2="606" y2="0"><stop offset="0" stop-color="#2f45ff"/><stop offset="0.5" stop-color="#4f70ff"/><stop offset="1" stop-color="#73a2ff"/></linearGradient>
<linearGradient id="sDesk" gradientUnits="userSpaceOnUse" x1="457" y1="0" x2="586" y2="0"><stop offset="0" stop-color="#2f45ff"/><stop offset="0.5" stop-color="#4f70ff"/><stop offset="1" stop-color="#73a2ff"/></linearGradient>
<linearGradient id="sPil" x1="0" y1="0" x2="1" y2="0"><stop offset="0" stop-color="#3a55ff"/><stop offset="1" stop-color="#6f9cff"/></linearGradient>
<linearGradient id="sPilR" x1="0" y1="0" x2="1" y2="1"><stop offset="0" stop-color="#6a92ff"/><stop offset="1" stop-color="#3a55ff"/></linearGradient>
<linearGradient id="sCloud" x1="0" y1="0" x2="1" y2="0"><stop offset="0" stop-color="#5a7cff"/><stop offset="0.35" stop-color="#6f9aff"/><stop offset="1" stop-color="#3248ff"/></linearGradient>
</defs>
<path d="M335.5 1522 L516.5 1640 L745 1491 L745 1537 Q745 1542 739 1545 L523.5 1683 Q516.5 1687 509.5 1683 L341.5 1575 Q335.5 1572 335.5 1568 Z" fill="#e1e7f6"/>
<path d="M341.4 1525.8 Q335.5 1522.0 341.3 1518.1 L558.4 1372.4 Q564.2 1368.5 570.0 1372.4 L739.2 1487.1 Q745.0 1491.0 739.1 1494.8 L522.4 1636.2 Q516.5 1640.0 510.6 1636.2 Z" fill="#f3f7ff"/>
<path d="M360.5 1520.3 Q355.5 1517.0 360.5 1513.7 L558.0 1384.8 Q563.0 1381.5 568.0 1384.9 L716.5 1485.1 Q721.5 1488.5 716.5 1491.8 L524.0 1619.2 Q519.0 1622.5 514.0 1619.2 Z" fill="url(#sPlat)"/>
<path d="M386.5 1373.4 L386.5 1455.7 Q389.6 1482.5 407.1 1496.9 L407.1 1410.5 Z" fill="url(#sPil)"/>
<polygon points="407.1,1409.4 412.2,1412.9 412.2,1495.8 407.1,1497.9" fill="#a9c6ff"/>
<path d="M386.5 1373.4 C387.4 1369.3 388.7 1357.7 391.7 1348.7 C394.6 1339.8 398.5 1328.2 404.0 1319.9 C409.5 1311.7 416.0 1305.5 424.6 1299.4 C433.1 1293.2 443.4 1287.2 455.4 1282.9 C467.4 1278.6 484.6 1275.5 496.6 1273.7 C508.6 1271.8 515.4 1271.3 527.4 1271.6 C539.4 1271.9 555.4 1273.1 568.6 1275.7 C581.8 1278.3 600.3 1285.1 606.6 1287.0 L606.6 1372.4 C602.0 1371.2 588.6 1367.1 578.9 1365.2 C569.1 1363.3 560.0 1361.5 548.0 1361.1 C536.0 1360.7 518.9 1361.4 506.9 1362.7 C494.9 1364.1 486.3 1366.2 476.0 1369.3 C465.7 1372.5 453.7 1377.5 445.1 1381.7 C436.6 1385.8 430.5 1389.2 424.6 1394.0 C418.7 1398.8 412.2 1407.7 409.8 1410.5 Z" fill="#c6d8ff"/>
<path d="M392.7 1375.5 C393.5 1371.7 394.7 1361.3 397.4 1352.9 C400.2 1344.5 403.9 1333.1 409.1 1325.1 C414.4 1317.0 420.6 1310.6 428.7 1304.5 C436.7 1298.4 446.2 1292.9 457.5 1288.7 C468.8 1284.5 484.9 1281.2 496.6 1279.2 C508.2 1277.2 515.4 1276.5 527.4 1276.7 C539.4 1277.0 556.0 1278.5 568.6 1280.9 C581.2 1283.3 597.4 1289.4 603.1 1291.1 L603.1 1371.8 C599.1 1370.7 588.0 1367.0 578.9 1365.2 C569.7 1363.4 560.0 1361.5 548.0 1361.1 C536.0 1360.7 518.9 1361.4 506.9 1362.7 C494.9 1364.1 486.3 1366.2 476.0 1369.3 C465.7 1372.5 453.7 1377.5 445.1 1381.7 C436.6 1385.8 430.7 1389.5 424.6 1394.0 C418.5 1398.5 411.2 1406.3 408.5 1408.8 Z" fill="url(#sWall)"/>
<polygon points="386.1,1373.0 393.3,1374.7 410.2,1408.8 407.3,1412.9" fill="#c6d8ff"/>
<path d="M427.7 1331.3 C434.0 1328.6 452.5 1319.6 465.7 1315.4 C478.9 1311.2 493.1 1308.0 506.9 1306.0 C520.6 1303.9 536.0 1303.3 548.0 1303.1 C560.0 1302.8 573.7 1304.3 578.9 1304.5 L578.9 1311.3 C573.7 1311.0 560.0 1309.4 548.0 1309.7 C536.0 1309.9 520.6 1310.7 506.9 1312.7 C493.1 1314.8 478.9 1317.9 465.7 1322.0 C452.5 1326.1 434.0 1334.9 427.7 1337.4 Z" fill="#a6c6ff"/>
<path d="M427.7 1363.1 C434.0 1360.5 452.5 1351.5 465.7 1347.3 C478.9 1343.1 493.1 1339.9 506.9 1337.8 C520.6 1335.8 536.0 1335.2 548.0 1335.0 C560.0 1334.7 573.7 1336.2 578.9 1336.4 L578.9 1343.2 C573.7 1342.9 560.0 1341.3 548.0 1341.5 C536.0 1341.8 520.6 1342.6 506.9 1344.6 C493.1 1346.7 478.9 1349.8 465.7 1353.9 C452.5 1358.0 434.0 1366.7 427.7 1369.3 Z" fill="#a6c6ff"/>
<ellipse cx="416.3" cy="1338.5" rx="4" ry="9.5" fill="#a6c6ff"/>
<ellipse cx="417.4" cy="1371.0" rx="4" ry="9.5" fill="#a6c6ff"/>
<path d="M649.7 1339.5 Q677.5 1373.4 673.4 1398.1 L673.4 1455.7 Q670.3 1488.6 656.5 1509.6 L651.2 1508.8 Z" fill="url(#sPilR)"/>
<path d="M652.4 1338.5 Q687.8 1381.7 653.8 1425.3" fill="none" stroke="#c6d8ff" stroke-width="3.6"/>
<polygon points="651.2,1424.4 656.3,1425.9 656.3,1510.2 651.2,1508.8" fill="#a9c6ff"/>
<path d="M515.1 1405.3 L539.8 1405.3 L540.2 1473.2 L529.9 1473.2 L526.8 1426.9 L527.4 1473.2 L518.2 1473.2 Z" fill="#a6c8ff"/>
<path d="M512.0 1365.2 L502.7 1381.7 L498.6 1378.6 L485.3 1351.8 L490.4 1348.7 L503.8 1368.3 L516.1 1350.8 Q523.3 1347.7 531.5 1350.8 Q548.0 1369.3 558.3 1397.1 L553.1 1399.1 L538.7 1375.5 L541.4 1406.3 Q527.4 1409.4 512.2 1405.3 Z" fill="#f5476f"/>
<path d="M478.1 1343.6 l4 -1 l5 3.5 l4 -3.5 l2 2 l-3 6 l-6 1 Z M553.8 1398.5 l5 -2 l3 9 l-3 1 Z" fill="#f8cdbd"/>
<path d="M516.7 1332.3 L528.5 1332.3 L529.1 1350.8 Q523.3 1353.9 518.8 1349.8 Q516.1 1340.5 516.7 1332.3 Z" fill="#f8cdbd"/>
<path d="M515.5 1327.1 Q518.2 1318.9 527.4 1318.9 Q538.1 1321.0 538.1 1331.3 Q537.3 1338.5 532.0 1340.9 Q528.5 1336.4 525.4 1333.3 Q519.6 1332.3 515.5 1327.1 Z" fill="#444"/>
<path d="M457.5 1463.9 C462.3 1465.4 475.7 1470.5 486.3 1472.6 C496.9 1474.6 509.6 1476.2 521.3 1476.3 C532.9 1476.4 545.4 1474.9 556.2 1473.2 C567.0 1471.5 581.1 1467.2 586.1 1466.0 L586.1 1552.4 C581.1 1553.4 567.0 1557.2 556.2 1558.6 C545.4 1559.9 532.9 1561.0 521.3 1560.6 C509.6 1560.3 496.9 1558.7 486.3 1556.5 C475.7 1554.3 462.3 1548.8 457.5 1547.3 Z" fill="url(#sDesk)"/>
<path d="M460.0 1460.7 C464.3 1462.0 476.1 1466.5 486.3 1468.5 C496.5 1470.4 509.6 1472.0 521.3 1472.2 C532.9 1472.3 545.9 1470.4 556.2 1469.3 C566.6 1468.2 578.9 1466.2 583.4 1465.6 L586.1 1469.7 C581.1 1470.4 567.0 1472.7 556.2 1473.8 C545.4 1475.0 532.9 1476.8 521.3 1476.7 C509.6 1476.6 496.9 1475.1 486.3 1473.0 C475.7 1470.9 462.3 1465.8 457.5 1464.4 Z" fill="#8fb2ff"/>
<path d="M406.3 1468.3 A170 127 0 0 1 435.4 1269.2" fill="none" stroke="#ffb43b" stroke-width="1"/>
<path d="M478.0 1255.1 A170 127 0 0 1 692.2 1347.5" fill="none" stroke="#ffb43b" stroke-width="1"/>
<path d="M694.5 1398.1 A170 127 0 0 1 474.3 1499.7" fill="none" stroke="#ffb43b" stroke-width="1"/>
<path d="M379.6 1350.3 A152.3 114.3 0 0 1 571.3 1267.8" fill="none" stroke="#06e4e0" stroke-width="1"/>
<path d="M609.2 1280.0 A152.3 114.3 0 0 1 635.0 1459.0" fill="none" stroke="#06e4e0" stroke-width="1"/>
<path d="M574.1 1486.2 A152.3 114.3 0 0 1 378.2 1394.8" fill="none" stroke="#06e4e0" stroke-width="1"/>
<ellipse cx="435.4" cy="1269.2" rx="4.4" ry="5.6" fill="#ffb43b"/>
<ellipse cx="478" cy="1255.1" rx="4.4" ry="5.6" fill="#ffb43b"/>
<ellipse cx="692.2" cy="1347.5" rx="4.4" ry="5.6" fill="#ffb43b"/>
<ellipse cx="694.5" cy="1398.1" rx="4.4" ry="5.6" fill="#ffb43b"/>
<ellipse cx="406.3" cy="1468.3" rx="4.4" ry="5.6" fill="#ffb43b"/>
<ellipse cx="474.3" cy="1499.7" rx="4.4" ry="5.6" fill="#ffb43b"/>
<ellipse cx="571.3" cy="1267.8" rx="4.2" ry="5.4" fill="#06e4e0"/>
<ellipse cx="609.2" cy="1280" rx="4.2" ry="5.4" fill="#06e4e0"/>
<ellipse cx="379.6" cy="1350.3" rx="4.2" ry="5.4" fill="#06e4e0"/>
<ellipse cx="378.2" cy="1394.8" rx="4.2" ry="5.4" fill="#06e4e0"/>
<ellipse cx="635" cy="1459" rx="4.2" ry="5.4" fill="#06e4e0"/>
<ellipse cx="574.1" cy="1486.2" rx="4.2" ry="5.4" fill="#06e4e0"/>
<path d="M274.4 1457.8 Q272.3 1435.1 288.8 1424.9 Q295.0 1396.1 313.5 1395.0 Q321.7 1396.1 325.8 1402.2 Q336.1 1402.2 342.3 1409.4 Q352.6 1414.6 349.5 1431.0 Q346.4 1445.4 332.0 1455.7 L304.2 1474.2 Q297.0 1478.3 290.9 1473.2 L277.5 1465.0 Q274.4 1462.9 274.4 1457.8 Z" fill="url(#sCloud)"/>
<path d="M288.8 1468.1 Q288.8 1447.5 304.2 1434.1 Q309.4 1410.5 327.9 1404.3" fill="none" stroke="#86a8ff" stroke-width="1.2" opacity="0.8"/>
<polygon points="320.7,1422.8 328.9,1428.6 325.4,1431.0 325.4,1448.5 315.5,1454.7 315.5,1438.2 311.8,1439.7" fill="#f4f4f6"/>
<g transform="translate(745.4 1391.5) rotate(-22)"><ellipse cx="2" cy="1.5" rx="20" ry="35.5" fill="none" stroke="#e0a030" stroke-width="12"/><ellipse rx="20" ry="35.5" fill="none" stroke="#ffb83d" stroke-width="12.5"/><path d="M14 -25.3 A20 35.5 0 0 1 9.5 31.2" fill="none" stroke="#06e4e0" stroke-width="12.5"/></g></g>
<g id="arrows"><path d="M945.1 1086.3 L662.5 894.2" fill="none" stroke="#7b7b7b" stroke-width="3.1" stroke-linejoin="miter"/><polygon points="656,889.7 668.2,887.5 658.4,901.8" fill="#7b7b7b"/><path d="M650.3 903.4 L938.3 1098.9" fill="none" stroke="#7b7b7b" stroke-width="3.1" stroke-linejoin="miter"/><path d="M1259.9 1015.5 L1425.5 899.4" fill="none" stroke="#7b7b7b" stroke-width="3.1" stroke-linejoin="miter"/><polygon points="1432,894.9 1429.8,907.1 1419.8,892.8" fill="#7b7b7b"/><path d="M2184.2 437 L1834.7 658.1" fill="none" stroke="#7b7b7b" stroke-width="3.1" stroke-linejoin="miter"/><polygon points="1828,662.3 1830.8,650.2 1840.1,664.9" fill="#7b7b7b"/><path d="M2223.4 457.1 L1824.6 710.3" fill="none" stroke="#7b7b7b" stroke-width="3.1" stroke-linejoin="miter"/><polygon points="1817.9,714.5 1820.7,702.4 1830,717.1" fill="#7b7b7b"/><path d="M2262.3 487.3 L1833.4 759.7" fill="none" stroke="#7b7b7b" stroke-width="3.1" stroke-linejoin="miter"/><polygon points="1826.7,763.9 1829.5,751.8 1838.8,766.5" fill="#7b7b7b"/><path d="M2350 1030.6 L2678.6 790 L2486.4 551.9" fill="none" stroke="#7b7b7b" stroke-width="3.1" stroke-linejoin="miter"/><polygon points="2481.4,545.7 2493.7,547.1 2480.2,558" fill="#7b7b7b"/><path d="M2350 1062.3 L2711.4 795.7 L2505.7 538.6" fill="none" stroke="#7b7b7b" stroke-width="3.1" stroke-linejoin="miter"/><path d="M1257.6 1319.8 L1563.8 1594.4 L1977 1289.5" fill="none" stroke="#7b7b7b" stroke-width="3.1" stroke-linejoin="miter"/><polygon points="1983.4,1284.8 1981.5,1297 1971.2,1283" fill="#7b7b7b"/><path d="M2002.6 1295.4 L1561 1622.2 L1246.7 1339.5" fill="none" stroke="#7b7b7b" stroke-width="3.1" stroke-linejoin="miter"/><polygon points="1240.8,1334.2 1253.2,1333.6 1241.5,1346.6" fill="#7b7b7b"/><path d="M978.3 1276 L740.3 1451.3" fill="none" stroke="#7b7b7b" stroke-width="3.1" stroke-linejoin="miter"/><polygon points="733.9,1456 735.8,1443.8 746.1,1457.8" fill="#7b7b7b"/><path d="M751.6 1474.5 L994.2 1290.5" fill="none" stroke="#7b7b7b" stroke-width="3.1" stroke-linejoin="miter"/><polygon points="1000.5,1285.7 998.7,1297.9 988.2,1284.1" fill="#7b7b7b"/></g>
<g id="labels"><g transform="translate(554.5 952.9) rotate(0.8)"><rect x="-81.5" y="-28" width="163" height="56" rx="5.5" fill="#1838cf"/><text x="0" y="10.2" text-anchor="middle" font-size="28.2" fill="#fff">资金方</text></g><g transform="translate(1197 1304.8) rotate(-33)"><rect x="-81.8" y="-27.8" width="163.5" height="55.5" rx="5.5" fill="#1838cf"/><text x="0" y="10.2" text-anchor="middle" font-size="28.2" fill="#fff">承运人</text></g><g transform="translate(1718.6 884) rotate(-33.2)"><rect x="-81.8" y="-28.1" width="163.6" height="56.2" rx="5.5" fill="#1838cf"/><text x="0" y="10.2" text-anchor="middle" font-size="28.2" fill="#fff">司机/车辆</text></g><g transform="translate(2460.7 514.3) rotate(-13.8)"><rect x="-127.8" y="-27.6" width="255.5" height="55.3" rx="5.5" fill="#1838cf"/><text x="0" y="10.2" text-anchor="middle" font-size="28.2" fill="#fff">汽车后市场服务点</text></g><g transform="translate(2296.6 1335.4) rotate(-31.9)"><rect x="-126" y="-27.5" width="252" height="55" rx="5.5" fill="#1838cf"/><text x="0" y="10.2" text-anchor="middle" font-size="28.2" fill="#fff">汽车后市场服务商</text></g><g transform="translate(673.5 1631.9) rotate(-33.1)"><rect x="-82" y="-28.1" width="163.9" height="56.2" rx="5.5" fill="#1838cf"/><text x="0" y="10.2" text-anchor="middle" font-size="28.2" fill="#fff">托运人</text></g></g>
<g id="pills"><line x1="1005.4" y1="906.6" x2="1042.3" y2="946.9" stroke="#ffd500" stroke-width="3.9" stroke-dasharray="11 4.6"/><g transform="translate(987.5 891.9) rotate(-34.9)"><rect x="-127.3" y="-22.8" width="254.6" height="45.5" rx="22.8" fill="none" stroke="#ffd500" stroke-width="3.9" stroke-dasharray="11 4.6"/><text x="0" y="13.4" text-anchor="middle" font-size="37.3" font-weight="400" fill="#ffd500">运输调度系统</text></g><line x1="1579.4" y1="569.7" x2="1612.6" y2="610.9" stroke="#ff8000" stroke-width="3.9" stroke-dasharray="11 4.6"/><g transform="translate(1553.6 543.1) rotate(-33.9)"><rect x="-125.8" y="-25.5" width="251.5" height="51" rx="25.5" fill="none" stroke="#ff8000" stroke-width="3.9" stroke-dasharray="11 4.6"/><text x="0" y="13.4" text-anchor="middle" font-size="37.3" font-weight="400" fill="#ff8000">数字油卡系统</text></g><line x1="1775.1" y1="890.3" x2="1812" y2="931.4" stroke="#17b8c8" stroke-width="3.9" stroke-dasharray="11 4.6"/><g transform="translate(1829.1 952.2) rotate(-35.8)"><rect x="-154.5" y="-24.8" width="309" height="49.6" rx="24.8" fill="none" stroke="#17b8c8" stroke-width="3.9" stroke-dasharray="11 4.6"/><text x="0" y="13.4" text-anchor="middle" font-size="37.3" font-weight="400" fill="#17b8c8">企业移动支付系统</text></g><line x1="1314.5" y1="1186" x2="1352.6" y2="1227.1" stroke="#b05cf5" stroke-width="3.9" stroke-dasharray="11 4.6"/><g transform="translate(1446 1219.2) rotate(-32)"><rect x="-149.7" y="-26.6" width="299.3" height="53.2" rx="26.6" fill="none" stroke="#b05cf5" stroke-width="3.9" stroke-dasharray="11 4.6"/><text x="0" y="13.4" text-anchor="middle" font-size="37.3" font-weight="400" fill="#b05cf5">运费金融助贷系统</text></g><line x1="2324.8" y1="1356.4" x2="2340.8" y2="1377.2" stroke="#ee1a9a" stroke-width="3.3" stroke-dasharray="11 4.6"/><g transform="translate(2391.3 1388.7) rotate(-32.6)"><rect x="-181.9" y="-30.6" width="363.8" height="61.2" rx="30.6" fill="none" stroke="#ee1a9a" stroke-width="3.2" stroke-dasharray="11 4.6"/><text x="0" y="13.4" text-anchor="middle" font-size="37.3" font-weight="400" fill="#ee1a9a">车辆后市场运营系统</text></g><line x1="411.4" y1="1635.7" x2="340" y2="1696.9" stroke="#f4471c" stroke-width="3" stroke-dasharray="11 4.6"/><g transform="translate(216.6 1795.3) rotate(-37.1)"><rect x="-153.8" y="-31.9" width="307.6" height="63.9" rx="31.9" fill="none" stroke="#f4471c" stroke-width="3.4" stroke-dasharray="11 4.6"/><text x="0" y="13.4" text-anchor="middle" font-size="37.3" font-weight="400" fill="#f4471c">数字招标采购系统</text></g><line x1="535.2" y1="1700.8" x2="639.2" y2="1815.2" stroke="#1ab394" stroke-width="3.9" stroke-dasharray="11 4.6"/><g transform="translate(653 1848.1) rotate(-35.8)"><rect x="-132.9" y="-23.1" width="265.8" height="46.1" rx="23.1" fill="none" stroke="#1ab394" stroke-width="3.9" stroke-dasharray="11 4.6"/><text x="0" y="13.4" text-anchor="middle" font-size="37.3" font-weight="400" fill="#1ab394">数字仓配系统</text></g><line x1="750.3" y1="1548.9" x2="849.7" y2="1657.7" stroke="#1a8a00" stroke-width="3.9" stroke-dasharray="11 4.6"/><g transform="translate(898.4 1665.5) rotate(-36)"><rect x="-154.5" y="-22.9" width="309.1" height="45.8" rx="22.9" fill="none" stroke="#1a8a00" stroke-width="3.9" stroke-dasharray="11 4.6"/><text x="0" y="13.4" text-anchor="middle" font-size="37.3" font-weight="400" fill="#1a8a00">物贸运一体化系统</text></g></g>
<g id="captions"><text transform="translate(792 934.3) rotate(-56)" x="0" y="10.3" text-anchor="middle" font-size="28.5" font-weight="700" fill="#2b2b2b">还款</text><text transform="translate(736.7 1011.3) rotate(-56)" x="0" y="10.3" text-anchor="middle" font-size="28.5" font-weight="700" fill="#2b2b2b">垫付</text><text transform="translate(1387.4 968.9) rotate(-33.7)" x="0" y="10.3" text-anchor="middle" font-size="28.5" font-weight="700" fill="#2b2b2b">运费支付</text><text transform="translate(2002.2 525) rotate(-32)" x="0" y="10.3" text-anchor="middle" font-size="28.5" font-weight="700" fill="#2b2b2b">轮胎更换</text><text transform="translate(2008.3 569.7) rotate(-32)" x="0" y="10.3" text-anchor="middle" font-size="28.5" font-weight="700" fill="#2b2b2b">汽车维修</text><text transform="translate(2009.9 619.1) rotate(-32)" x="0" y="10.3" text-anchor="middle" font-size="28.5" font-weight="700" fill="#2b2b2b">油品加注</text><text transform="translate(2390 972.9) rotate(-35)" x="0" y="10.3" text-anchor="middle" font-size="28.5" font-weight="700" fill="#2b2b2b">资金支付</text><text transform="translate(2445.7 1031.4) rotate(-35)" x="0" y="10.3" text-anchor="middle" font-size="28.5" font-weight="700" fill="#2b2b2b">发票开具</text><text transform="translate(1740 1401.4) rotate(-36)" x="0" y="10.3" text-anchor="middle" font-size="28.5" font-weight="700" fill="#2b2b2b">资金支付</text><text transform="translate(1809.6 1486.4) rotate(-36)" x="0" y="10.3" text-anchor="middle" font-size="28.5" font-weight="700" fill="#2b2b2b">发票开具</text><text transform="translate(817.8 1366.5) rotate(-36)" x="0" y="10.3" text-anchor="middle" font-size="28.5" font-weight="700" fill="#2b2b2b">开具发票</text><text transform="translate(882.6 1410.7) rotate(-36)" x="0" y="10.3" text-anchor="middle" font-size="28.5" font-weight="700" fill="#2b2b2b">运单、运费支付</text></g>
<g id="ring"><defs>
<linearGradient id="rg0" gradientUnits="userSpaceOnUse" x1="1780.8" y1="3156.1" x2="1780.8" y2="2781.9"><stop offset="0" stop-color="#a3b1fb"/><stop offset="0.3" stop-color="#c5cffc"/><stop offset="0.62" stop-color="#e6ebfe"/><stop offset="0.85" stop-color="#f6f8ff"/><stop offset="1" stop-color="#fbfcff"/></linearGradient>
<linearGradient id="rh0" gradientUnits="userSpaceOnUse" x1="1735.0" y1="2808.3" x2="1787.1" y2="2671.5"><stop offset="0" stop-color="#eef2ff"/><stop offset="0.45" stop-color="#d3dbfd"/><stop offset="1" stop-color="#a3b1fb"/></linearGradient>
<linearGradient id="rg1" gradientUnits="userSpaceOnUse" x1="1643.8" y1="2644.9" x2="1269.6" y2="2644.9"><stop offset="0" stop-color="#a3b1fb"/><stop offset="0.3" stop-color="#c5cffc"/><stop offset="0.62" stop-color="#e6ebfe"/><stop offset="0.85" stop-color="#f6f8ff"/><stop offset="1" stop-color="#fbfcff"/></linearGradient>
<linearGradient id="rh1" gradientUnits="userSpaceOnUse" x1="1296.0" y1="2690.7" x2="1159.2" y2="2638.6"><stop offset="0" stop-color="#eef2ff"/><stop offset="0.45" stop-color="#d3dbfd"/><stop offset="1" stop-color="#a3b1fb"/></linearGradient>
<linearGradient id="rg2" gradientUnits="userSpaceOnUse" x1="1132.6" y1="2781.9" x2="1132.6" y2="3156.1"><stop offset="0" stop-color="#a3b1fb"/><stop offset="0.3" stop-color="#c5cffc"/><stop offset="0.62" stop-color="#e6ebfe"/><stop offset="0.85" stop-color="#f6f8ff"/><stop offset="1" stop-color="#fbfcff"/></linearGradient>
<linearGradient id="rh2" gradientUnits="userSpaceOnUse" x1="1178.4" y1="3129.7" x2="1126.3" y2="3266.5"><stop offset="0" stop-color="#eef2ff"/><stop offset="0.45" stop-color="#d3dbfd"/><stop offset="1" stop-color="#a3b1fb"/></linearGradient>
<linearGradient id="rg3" gradientUnits="userSpaceOnUse" x1="1269.6" y1="3293.1" x2="1643.8" y2="3293.1"><stop offset="0" stop-color="#a3b1fb"/><stop offset="0.3" stop-color="#c5cffc"/><stop offset="0.62" stop-color="#e6ebfe"/><stop offset="0.85" stop-color="#f6f8ff"/><stop offset="1" stop-color="#fbfcff"/></linearGradient>
<linearGradient id="rh3" gradientUnits="userSpaceOnUse" x1="1617.4" y1="3247.3" x2="1754.2" y2="3299.4"><stop offset="0" stop-color="#eef2ff"/><stop offset="0.45" stop-color="#d3dbfd"/><stop offset="1" stop-color="#a3b1fb"/></linearGradient>
</defs>
<path d="M1813.1 3174.8 A411.5 411.5 0 0 0 1813.1 2763.2 L1748.6 2800.5 A337.0 337.0 0 0 1 1748.6 3137.5 Z" fill="url(#rg0)"/>
<polygon points="1833.1,2751.7 1735.0,2808.3 1750.1,2722.8" fill="url(#rh0)"/>
<path d="M1662.5 2612.6 A411.5 411.5 0 0 0 1251.0 2612.6 L1288.2 2677.1 A337.0 337.0 0 0 1 1625.2 2677.1 Z" fill="url(#rg1)"/>
<polygon points="1239.4,2592.6 1296.0,2690.7 1210.5,2675.6" fill="url(#rh1)"/>
<path d="M1100.3 2763.2 A411.5 411.5 0 0 0 1100.3 3174.8 L1164.8 3137.5 A337.0 337.0 0 0 1 1164.8 2800.5 Z" fill="url(#rg2)"/>
<polygon points="1080.3,3186.3 1178.4,3129.7 1163.3,3215.2" fill="url(#rh2)"/>
<path d="M1250.9 3325.4 A411.5 411.5 0 0 0 1662.5 3325.4 L1625.2 3260.9 A337.0 337.0 0 0 1 1288.2 3260.9 Z" fill="url(#rg3)"/>
<polygon points="1674.0,3345.4 1617.4,3247.3 1702.9,3262.4" fill="url(#rh3)"/>
<rect x="1353.8" y="2663.5" width="232.5" height="74" rx="13" fill="#a6d0fc"/>
<ellipse cx="1392" cy="2714" rx="13" ry="8.5" fill="#fff"/>
<path d="M1469.3 2737 V2871 M1314.7 2871 V2819 Q1314.7 2803.4 1330.3 2803.4 H1609.3 Q1624.9 2803.4 1624.9 2819 V2871" fill="none" stroke="#a6d0fc" stroke-width="10"/>
<rect x="1280.3" y="2869.3" width="69" height="42" rx="8" fill="#a6d0fc"/>
<rect x="1435.6" y="2869.3" width="69" height="42" rx="8" fill="#a6d0fc"/>
<rect x="1589.4" y="2869.3" width="69" height="42" rx="8" fill="#a6d0fc"/>
<text x="1469.8" y="3037" text-anchor="middle" font-size="90" font-weight="900" fill="#3b6cf5">萬參加油</text>
<text x="1469.8" y="3131" text-anchor="middle" font-size="90" font-weight="900" fill="#3b6cf5">智慧管家</text></g>
<g id="icons"><defs>
<linearGradient id="icL" x1="0" y1="0" x2="1" y2="0"><stop offset="0" stop-color="#a7b5fb"/><stop offset="0.3" stop-color="#bccafd"/><stop offset="0.65" stop-color="#dbe5fe"/><stop offset="1" stop-color="#eaf1ff"/></linearGradient>
<linearGradient id="icR" x1="0" y1="0" x2="1" y2="0"><stop offset="0" stop-color="#eaf1ff"/><stop offset="0.35" stop-color="#dbe5fe"/><stop offset="0.7" stop-color="#bccafd"/><stop offset="1" stop-color="#a7b5fb"/></linearGradient>
</defs>
<ellipse cx="912.6" cy="2447.2" rx="63.8" ry="65" fill="url(#icL)"/>
<rect x="888.7" y="2414.5" width="47.7" height="59.7" rx="3.5" fill="#4566ff"/>
<rect x="897.7" y="2434.4" width="15" height="3.6" rx="1" fill="#b9c6ff"/>
<rect x="897.7" y="2443.4" width="28.4" height="4.4" rx="1" fill="#a9b8ff"/>
<rect x="897.7" y="2454.4" width="28.4" height="2.8" rx="1" fill="#c3ceff"/>
<rect x="900.5" y="2468.6" width="23.8" height="12" rx="5.5" fill="#4566ff" stroke="#d3ddff" stroke-width="2"/>
<ellipse cx="893.3" cy="3129.7" rx="63.5" ry="64.5" fill="url(#icL)"/>
<rect x="871.5" y="3095" width="43.2" height="3.8" rx="1" fill="#4566ff"/>
<path d="M883 3098 L885.5 3104 M904 3098 L901.5 3104" stroke="#4566ff" stroke-width="3" fill="none"/>
<circle cx="893.1" cy="3132.6" r="22.2" fill="none" stroke="#4566ff" stroke-width="17.4"/>
<circle cx="908" cy="3147.8" r="2" fill="#8da2ff"/>
<ellipse cx="2042.4" cy="2446.9" rx="63.8" ry="64.8" fill="url(#icR)"/>
<path d="M2008.6 2437 L2017.5 2427.9 H2073 Q2076 2427.9 2076 2431 V2462.4 Q2076 2465.4 2073 2465.4 H2011.6 Q2008.6 2465.4 2008.6 2462.4 Z" fill="#4566ff"/>
<rect x="2029.2" y="2414.5" width="26.2" height="16.5" rx="3" fill="#4566ff" stroke="#c9d5fe" stroke-width="2" paint-order="stroke"/>
<rect x="2029.2" y="2449.5" width="26.2" height="31.4" rx="3.5" fill="#4566ff" stroke="#9fb2ff" stroke-width="2.4" paint-order="stroke"/>
<circle cx="2066.2" cy="2437.1" r="1.8" fill="#a9b8ff"/>
<ellipse cx="2026.7" cy="3125.4" rx="63.5" ry="64.3" fill="url(#icR)"/>
<path d="M1998.5 3099.1 H2055.8 Q2058.8 3099.1 2058.8 3102.1 V3141.9 Q2058.8 3144.9 2055.8 3144.9 H2019.2 L2008.9 3152.8 L2008.4 3144.9 H1998.5 Q1995.5 3144.9 1995.5 3141.9 V3102.1 Q1995.5 3099.1 1998.5 3099.1 Z" fill="#4566ff"/>
<circle cx="2010.3" cy="3122.3" r="4.1" fill="#dfe7ff"/>
<circle cx="2026.7" cy="3122.3" r="4.1" fill="#dfe7ff"/>
<circle cx="2043.2" cy="3122.3" r="4.1" fill="#dfe7ff"/></g>
<g id="copy"><text class="sf" x="961.5" y="2617" font-size="54.2" font-weight="700" fill="#4a6df7" text-anchor="end">企业移动支付</text>
<text class="sf" x="168.5 191.0 233.0 275.0 317.0 359.0 401.0 444.5 485.0 527.0 569.0 611.0 653.0 695.0 737.0 779.0 821.0 863.0 905.0" y="2715" font-size="42.1" font-weight="700" fill="#151515">“用多少付多少”，无需预充值加油站，大</text>
<text class="sf" x="149" y="2781" font-size="42.1" font-weight="700" fill="#151515" text-anchor="start" textLength="797.5" lengthAdjust="spacing">幅减少企业资金占用；统一支付入口，支付</text>
<text class="sf" x="149" y="2846" font-size="42.1" font-weight="700" fill="#151515" text-anchor="start">完成，即可开专票，抵扣无忧。</text>
<text class="sf" x="958" y="3320" font-size="54.2" font-weight="700" fill="#2e60e8" text-anchor="end">企业降本增效</text>
<text class="sf" x="149" y="3413.5" font-size="42.1" font-weight="700" fill="#151515" text-anchor="start" textLength="798" lengthAdjust="spacing">告别手动处理海量油站充值、开票、对账的</text>
<text class="sf" x="149" y="3478.5" font-size="42.1" font-weight="700" fill="#151515" text-anchor="start" textLength="798" lengthAdjust="spacing">繁琐工作，告别强制管理司机，司机自主选</text>
<text class="sf" x="149" y="3543" font-size="42.1" font-weight="700" fill="#151515" text-anchor="start">择加油站、加油更便捷。</text>
<clipPath id="cp3"><rect x="1940" y="2660" width="878.5" height="300"/></clipPath>
<text class="sf" x="1962" y="2630" font-size="54.2" font-weight="700" fill="#3366ee" text-anchor="start">风控抵扣</text>
<g clip-path="url(#cp3)">
<text class="sf" x="1962" y="2728.5" font-size="42.1" font-weight="700" fill="#151515" text-anchor="start" letter-spacing="3.6">TMS运输管理系统对接企业移动支付，通</text>
<text class="sf" x="1962" y="2792.5" font-size="42.1" font-weight="700" fill="#151515" text-anchor="start" letter-spacing="3.6">过运单与油站、ETC、北斗定位、运输轨迹</text>
<text class="sf" x="1962" y="2857.5" font-size="42.1" font-weight="700" fill="#151515" text-anchor="start" letter-spacing="3.6">校验，实现资金流、票据流、业务流的全链</text>
<text class="sf" x="1962" y="2922.5" font-size="42.1" font-weight="700" fill="#151515" text-anchor="start" letter-spacing="3.6">条监管体系。</text>
</g>
<text class="sf" x="1944" y="3320.5" font-size="54.2" font-weight="700" fill="#2e60e8" text-anchor="start">发票管理数字化</text>
<text class="sf" x="1944" y="3414" font-size="42.1" font-weight="700" fill="#151515" text-anchor="start" textLength="798" lengthAdjust="spacing">企业账户对油站对公支付后，油站即可开具</text>
<text class="sf" x="1944" y="3479.5" font-size="42.1" font-weight="700" fill="#151515" text-anchor="start" textLength="798" lengthAdjust="spacing">专票，实现加油发票单单对应，可追溯遗漏</text>
<text class="sf" x="1944" y="3544" font-size="42.1" font-weight="700" fill="#151515" text-anchor="start">可补开。</text></g>
</svg>
</body></html>
